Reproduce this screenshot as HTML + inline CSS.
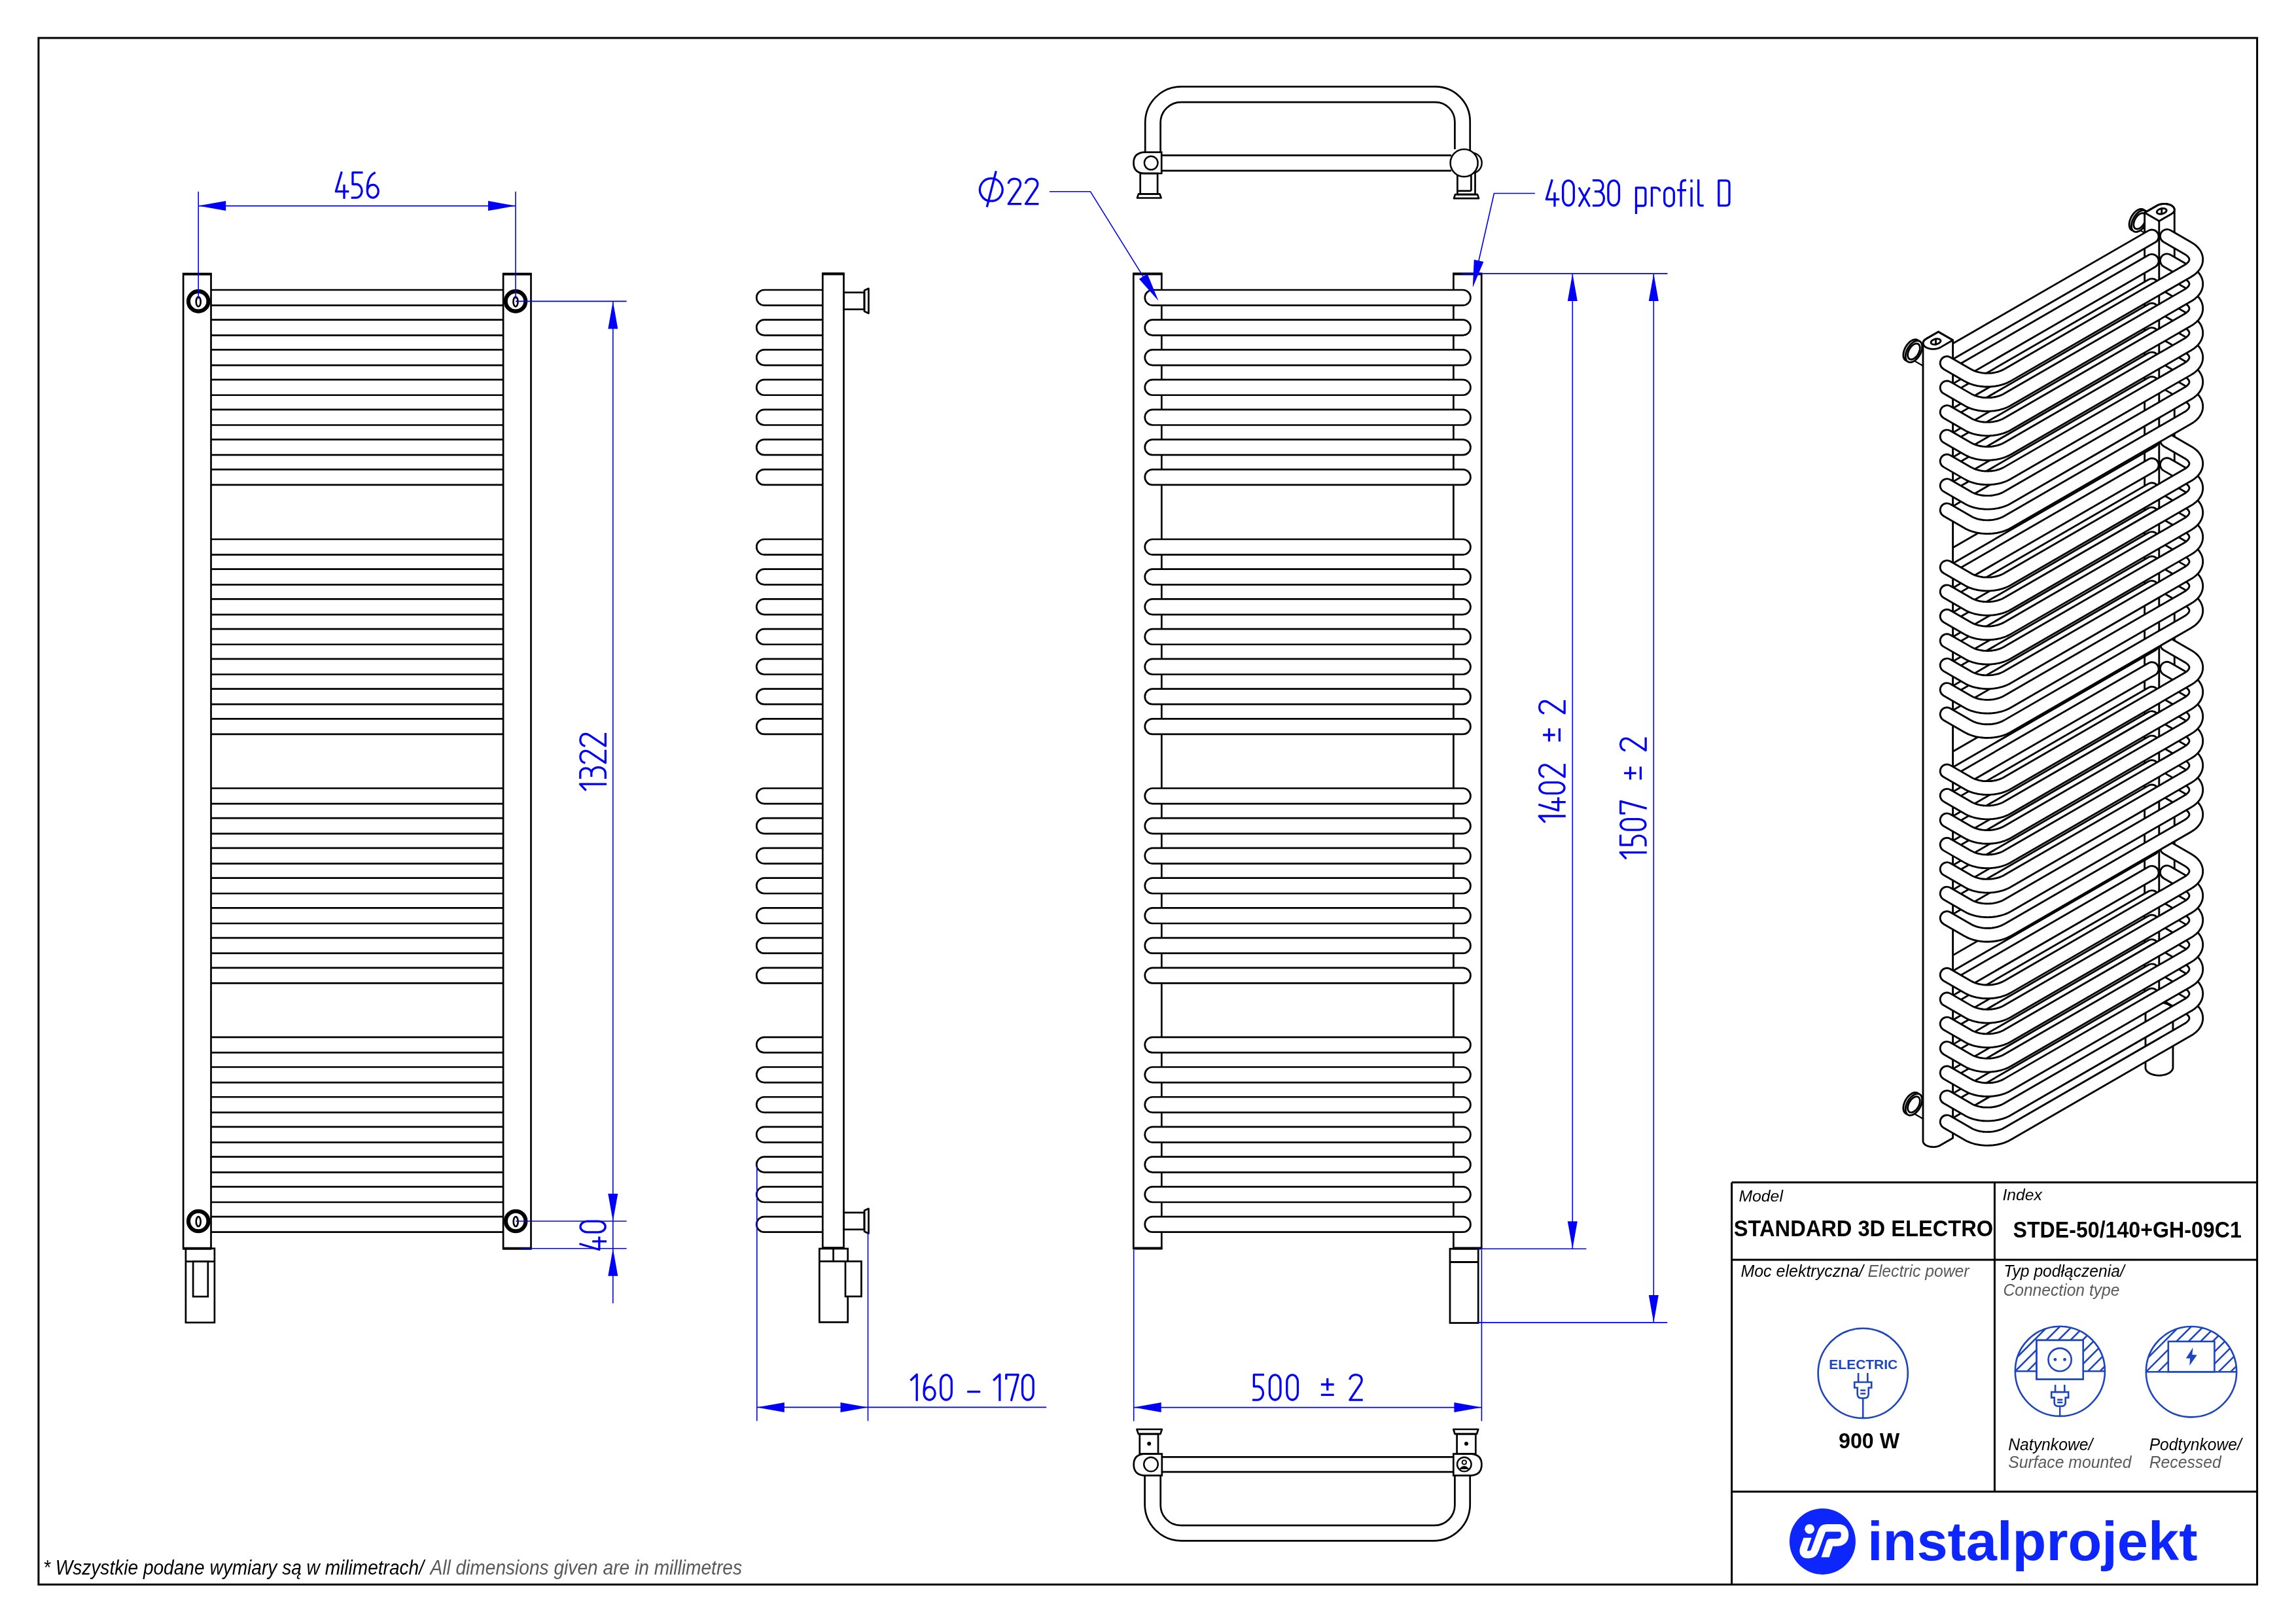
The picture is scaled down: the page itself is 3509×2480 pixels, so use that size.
<!DOCTYPE html>
<html><head><meta charset="utf-8"><title>STANDARD 3D ELECTRO</title>
<style>html,body{margin:0;padding:0;background:#fff;width:3509px;height:2480px;overflow:hidden}svg{display:block;will-change:transform}</style>
</head><body>
<svg width="3509" height="2480" viewBox="0 0 3509 2480">
<rect width="3509" height="2480" fill="#fff"/>
<g id="d3">
<line x1="2947.43" y1="550.14" x2="2925.3" y2="537.36" stroke="#000" stroke-width="26" stroke-linecap="butt"/>
<line x1="2947.43" y1="550.14" x2="2925.3" y2="537.36" stroke="#fff" stroke-width="21.6" stroke-linecap="butt"/>
<path d="M2934.37,527.86 L2934.17,525.4 L2933.6,523.24 L2932.66,521.45 L2931.38,520.07 L2929.81,519.16 L2927.99,518.73 L2925.97,518.8 L2923.82,519.37 L2921.61,520.43 L2919.39,521.93 L2917.24,523.84 L2915.23,526.09 L2913.41,528.63 L2911.83,531.36 L2910.56,534.21 L2909.62,537.09 L2909.04,539.91 L2908.85,542.59 L2909.04,545.05 L2909.62,547.21 L2910.56,549.01 L2911.83,550.38 L2913.41,551.3 L2915.23,551.73 L2917.24,551.65 L2919.39,551.08 L2921.61,550.03 L2923.82,548.52 L2925.97,546.61 L2927.99,544.36 L2929.81,541.83 L2931.38,539.1 L2932.66,536.25 L2933.6,533.37 L2934.17,530.54 Z" stroke="#000" stroke-width="2.85" fill="#fff" stroke-linejoin="round"/>
<path d="M2937.69,529.78 L2937.49,527.32 L2936.92,525.16 L2935.98,523.37 L2934.7,521.99 L2933.13,521.07 L2931.31,520.64 L2929.29,520.72 L2927.14,521.29 L2924.93,522.35 L2922.71,523.85 L2920.56,525.76 L2918.55,528.01 L2916.73,530.54 L2915.15,533.27 L2913.88,536.12 L2912.94,539 L2912.36,541.83 L2912.17,544.51 L2912.36,546.97 L2912.94,549.13 L2913.88,550.92 L2915.15,552.3 L2916.73,553.21 L2918.55,553.64 L2920.56,553.57 L2922.71,553 L2924.93,551.94 L2927.14,550.44 L2929.29,548.53 L2931.31,546.28 L2933.13,543.75 L2934.7,541.01 L2935.98,538.16 L2936.92,535.28 L2937.49,532.46 Z" stroke="#000" stroke-width="2.85" fill="#fff" stroke-linejoin="round"/>
<path d="M2934.31,531.73 L2934.17,529.92 L2933.74,528.33 L2933.05,527.01 L2932.11,526 L2930.96,525.33 L2929.62,525.01 L2928.14,525.07 L2926.56,525.49 L2924.93,526.26 L2923.3,527.37 L2921.72,528.77 L2920.24,530.43 L2918.9,532.29 L2917.74,534.3 L2916.8,536.39 L2916.11,538.51 L2915.69,540.59 L2915.55,542.56 L2915.69,544.37 L2916.11,545.95 L2916.8,547.27 L2917.74,548.29 L2918.9,548.96 L2920.24,549.28 L2921.72,549.22 L2923.3,548.8 L2924.93,548.02 L2926.56,546.92 L2928.14,545.52 L2929.62,543.86 L2930.96,542 L2932.11,539.99 L2933.05,537.89 L2933.74,535.78 L2934.17,533.7 Z" stroke="#000" stroke-width="2.85" fill="none" stroke-linejoin="round"/>
<line x1="2947.43" y1="1700.76" x2="2925.3" y2="1687.98" stroke="#000" stroke-width="26" stroke-linecap="butt"/>
<line x1="2947.43" y1="1700.76" x2="2925.3" y2="1687.98" stroke="#fff" stroke-width="21.6" stroke-linecap="butt"/>
<path d="M2934.37,1678.49 L2934.17,1676.03 L2933.6,1673.87 L2932.66,1672.08 L2931.38,1670.7 L2929.81,1669.78 L2927.99,1669.35 L2925.97,1669.43 L2923.82,1670 L2921.61,1671.06 L2919.39,1672.56 L2917.24,1674.47 L2915.23,1676.72 L2913.41,1679.25 L2911.83,1681.98 L2910.56,1684.83 L2909.62,1687.71 L2909.04,1690.54 L2908.85,1693.22 L2909.04,1695.68 L2909.62,1697.84 L2910.56,1699.63 L2911.83,1701.01 L2913.41,1701.92 L2915.23,1702.35 L2917.24,1702.28 L2919.39,1701.71 L2921.61,1700.65 L2923.82,1699.15 L2925.97,1697.24 L2927.99,1694.99 L2929.81,1692.45 L2931.38,1689.72 L2932.66,1686.87 L2933.6,1683.99 L2934.17,1681.17 Z" stroke="#000" stroke-width="2.85" fill="#fff" stroke-linejoin="round"/>
<path d="M2937.69,1680.4 L2937.49,1677.95 L2936.92,1675.79 L2935.98,1673.99 L2934.7,1672.62 L2933.13,1671.7 L2931.31,1671.27 L2929.29,1671.35 L2927.14,1671.92 L2924.93,1672.97 L2922.71,1674.48 L2920.56,1676.38 L2918.55,1678.64 L2916.73,1681.17 L2915.15,1683.9 L2913.88,1686.75 L2912.94,1689.63 L2912.36,1692.45 L2912.17,1695.14 L2912.36,1697.59 L2912.94,1699.75 L2913.88,1701.55 L2915.15,1702.93 L2916.73,1703.84 L2918.55,1704.27 L2920.56,1704.2 L2922.71,1703.62 L2924.93,1702.57 L2927.14,1701.07 L2929.29,1699.16 L2931.31,1696.9 L2933.13,1694.37 L2934.7,1691.64 L2935.98,1688.79 L2936.92,1685.91 L2937.49,1683.09 Z" stroke="#000" stroke-width="2.85" fill="#fff" stroke-linejoin="round"/>
<path d="M2934.31,1682.35 L2934.17,1680.55 L2933.74,1678.96 L2933.05,1677.64 L2932.11,1676.63 L2930.96,1675.95 L2929.62,1675.64 L2928.14,1675.69 L2926.56,1676.11 L2924.93,1676.89 L2923.3,1678 L2921.72,1679.4 L2920.24,1681.06 L2918.9,1682.92 L2917.74,1684.93 L2916.8,1687.02 L2916.11,1689.14 L2915.69,1691.21 L2915.55,1693.19 L2915.69,1694.99 L2916.11,1696.58 L2916.8,1697.9 L2917.74,1698.91 L2918.9,1699.59 L2920.24,1699.9 L2921.72,1699.85 L2923.3,1699.43 L2924.93,1698.65 L2926.56,1697.55 L2928.14,1696.14 L2929.62,1694.49 L2930.96,1692.62 L2932.11,1690.62 L2933.05,1688.52 L2933.74,1686.4 L2934.17,1684.33 Z" stroke="#000" stroke-width="2.85" fill="none" stroke-linejoin="round"/>
<line x1="3292.66" y1="350.82" x2="3270.53" y2="338.04" stroke="#000" stroke-width="26" stroke-linecap="butt"/>
<line x1="3292.66" y1="350.82" x2="3270.53" y2="338.04" stroke="#fff" stroke-width="21.6" stroke-linecap="butt"/>
<path d="M3279.59,328.54 L3279.4,326.08 L3278.83,323.93 L3277.89,322.13 L3276.61,320.75 L3275.04,319.84 L3273.22,319.41 L3271.2,319.48 L3269.05,320.06 L3266.84,321.11 L3264.62,322.61 L3262.47,324.52 L3260.46,326.78 L3258.64,329.31 L3257.06,332.04 L3255.79,334.89 L3254.85,337.77 L3254.27,340.59 L3254.08,343.27 L3254.27,345.73 L3254.85,347.89 L3255.79,349.69 L3257.06,351.06 L3258.64,351.98 L3260.46,352.41 L3262.47,352.33 L3264.62,351.76 L3266.84,350.71 L3269.05,349.2 L3271.2,347.3 L3273.22,345.04 L3275.04,342.51 L3276.61,339.78 L3277.89,336.93 L3278.83,334.05 L3279.4,331.22 Z" stroke="#000" stroke-width="2.85" fill="#fff" stroke-linejoin="round"/>
<path d="M3282.92,330.46 L3282.72,328 L3282.15,325.84 L3281.21,324.05 L3279.93,322.67 L3278.36,321.75 L3276.54,321.33 L3274.52,321.4 L3272.37,321.97 L3270.16,323.03 L3267.94,324.53 L3265.79,326.44 L3263.78,328.69 L3261.96,331.22 L3260.38,333.96 L3259.11,336.81 L3258.17,339.69 L3257.59,342.51 L3257.4,345.19 L3257.59,347.65 L3258.17,349.81 L3259.11,351.6 L3260.38,352.98 L3261.96,353.9 L3263.78,354.32 L3265.79,354.25 L3267.94,353.68 L3270.16,352.62 L3272.37,351.12 L3274.52,349.21 L3276.54,346.96 L3278.36,344.43 L3279.93,341.7 L3281.21,338.85 L3282.15,335.97 L3282.72,333.14 Z" stroke="#000" stroke-width="2.85" fill="#fff" stroke-linejoin="round"/>
<path d="M3279.54,332.41 L3279.4,330.6 L3278.97,329.01 L3278.28,327.69 L3277.34,326.68 L3276.19,326.01 L3274.85,325.69 L3273.37,325.75 L3271.79,326.17 L3270.16,326.94 L3268.53,328.05 L3266.95,329.45 L3265.47,331.11 L3264.13,332.97 L3262.97,334.98 L3262.03,337.08 L3261.34,339.19 L3260.92,341.27 L3260.78,343.24 L3260.92,345.05 L3261.34,346.64 L3262.03,347.96 L3262.97,348.97 L3264.13,349.64 L3265.47,349.96 L3266.95,349.9 L3268.53,349.48 L3270.16,348.71 L3271.79,347.6 L3273.37,346.2 L3274.85,344.54 L3276.19,342.68 L3277.34,340.67 L3278.28,338.58 L3278.97,336.46 L3279.4,334.38 Z" stroke="#000" stroke-width="2.85" fill="none" stroke-linejoin="round"/>
<path d="M3277.65,325.01 L3296.41,314.18 L3297.98,313.39 L3299.7,312.72 L3301.56,312.18 L3303.53,311.79 L3305.55,311.54 L3307.62,311.46 L3309.67,311.52 L3311.7,311.75 L3313.65,312.12 L3315.49,312.64 L3317.2,313.29 L3318.74,314.07 L3320.09,314.96 L3321.22,315.95 L3322.12,317.01 L3322.76,318.14 L3323.15,319.3 L3323.27,320.49 L3323.27,1539.73 L3323.12,1540.92 L3322.7,1542.09 L3322.01,1543.22 L3321.09,1544.3 L3319.92,1545.29 L3318.55,1546.2 L3299.79,1557.03 L3277.65,1544.25 Z" stroke="#000" stroke-width="2.85" fill="#fff" stroke-linejoin="round"/>
<path d="M3277.65,325.01 L3296.41,314.18 L3297.98,313.39 L3299.7,312.72 L3301.56,312.18 L3303.53,311.79 L3305.55,311.54 L3307.62,311.46 L3309.67,311.52 L3311.7,311.75 L3313.65,312.12 L3315.49,312.64 L3317.2,313.29 L3318.74,314.07 L3320.09,314.96 L3321.22,315.95 L3322.12,317.01 L3322.76,318.14 L3323.15,319.3 L3323.27,320.49 L3323.12,321.68 L3322.7,322.85 L3322.01,323.99 L3321.09,325.06 L3319.92,326.06 L3318.55,326.96 L3299.79,337.79 Z" stroke="#000" stroke-width="2.85" fill="none" stroke-linejoin="round"/>
<line x1="3299.79" y1="337.79" x2="3299.79" y2="1557.03" stroke="#000" stroke-width="2.85"/>
<path d="M3309.73,319.27 L3310.67,320.05 L3311.14,321.01 L3311.1,322.09 L3310.56,323.22 L3309.56,324.31 L3308.16,325.29 L3306.45,326.1 L3304.56,326.68 L3302.61,327 L3300.74,327.02 L3299.08,326.75 L3297.72,326.2 L3296.78,325.42 L3296.32,324.46 L3296.35,323.38 L3296.89,322.26 L3297.9,321.17 L3299.3,320.18 L3301.01,319.37 L3302.9,318.79 L3304.84,318.48 L3306.71,318.46 L3308.38,318.73 Z" stroke="#000" stroke-width="2.85" fill="none" stroke-linejoin="round"/>
<line x1="3303.73" y1="317.24" x2="3303.73" y2="328.24" stroke="#000" stroke-width="2.85"/>
<path d="M3278.99,1545.3 L3279.02,1543.18 L3279.69,1541.09 L3280.98,1539.1 L3282.84,1537.25 L3285.22,1535.62 L3288.05,1534.24 L3291.24,1533.17 L3294.7,1532.43 L3298.32,1532.04 L3301.99,1532.02 L3305.6,1532.37 L3309.03,1533.08 L3312.2,1534.13 L3314.99,1535.47 L3317.32,1537.08 L3319.13,1538.91 L3320.35,1540.89 L3320.96,1542.98 L3320.96,1630.03 L3320.93,1632.15 L3320.26,1634.24 L3318.98,1636.23 L3317.12,1638.08 L3314.73,1639.71 L3311.9,1641.08 L3308.71,1642.16 L3305.25,1642.9 L3301.63,1643.29 L3297.96,1643.3 L3294.36,1642.95 L3290.92,1642.25 L3287.76,1641.2 L3284.97,1639.86 L3282.63,1638.24 L3280.82,1636.42 L3279.6,1634.43 L3278.99,1632.35 Z" stroke="#000" stroke-width="2.85" fill="#fff" stroke-linejoin="round"/>
<path d="M2973.51,1702.68 L3288.72,1520.69" stroke="#000" stroke-width="23.6" fill="none" stroke-linecap="round" stroke-linejoin="round"/>
<path d="M2973.51,1702.68 L3288.72,1520.69" stroke="#fff" stroke-width="17.9" fill="none" stroke-linecap="round" stroke-linejoin="round"/>
<path d="M2973.51,1665.25 L3288.72,1483.26" stroke="#000" stroke-width="23.6" fill="none" stroke-linecap="round" stroke-linejoin="round"/>
<path d="M2973.51,1665.25 L3288.72,1483.26" stroke="#fff" stroke-width="17.9" fill="none" stroke-linecap="round" stroke-linejoin="round"/>
<path d="M2973.51,1627.82 L3288.72,1445.83" stroke="#000" stroke-width="23.6" fill="none" stroke-linecap="round" stroke-linejoin="round"/>
<path d="M2973.51,1627.82 L3288.72,1445.83" stroke="#fff" stroke-width="17.9" fill="none" stroke-linecap="round" stroke-linejoin="round"/>
<path d="M2973.51,1590.39 L3288.72,1408.4" stroke="#000" stroke-width="23.6" fill="none" stroke-linecap="round" stroke-linejoin="round"/>
<path d="M2973.51,1590.39 L3288.72,1408.4" stroke="#fff" stroke-width="17.9" fill="none" stroke-linecap="round" stroke-linejoin="round"/>
<path d="M2973.51,1552.96 L3288.72,1370.97" stroke="#000" stroke-width="23.6" fill="none" stroke-linecap="round" stroke-linejoin="round"/>
<path d="M2973.51,1552.96 L3288.72,1370.97" stroke="#fff" stroke-width="17.9" fill="none" stroke-linecap="round" stroke-linejoin="round"/>
<path d="M2973.51,1515.53 L3288.72,1333.54" stroke="#000" stroke-width="23.6" fill="none" stroke-linecap="round" stroke-linejoin="round"/>
<path d="M2973.51,1515.53 L3288.72,1333.54" stroke="#fff" stroke-width="17.9" fill="none" stroke-linecap="round" stroke-linejoin="round"/>
<path d="M2973.51,1478.1 L3288.72,1296.11" stroke="#000" stroke-width="23.6" fill="none" stroke-linecap="round" stroke-linejoin="round"/>
<path d="M2973.51,1478.1 L3288.72,1296.11" stroke="#fff" stroke-width="17.9" fill="none" stroke-linecap="round" stroke-linejoin="round"/>
<path d="M2973.51,1391.34 L3288.72,1209.35" stroke="#000" stroke-width="23.6" fill="none" stroke-linecap="round" stroke-linejoin="round"/>
<path d="M2973.51,1391.34 L3288.72,1209.35" stroke="#fff" stroke-width="17.9" fill="none" stroke-linecap="round" stroke-linejoin="round"/>
<path d="M2973.51,1353.91 L3288.72,1171.92" stroke="#000" stroke-width="23.6" fill="none" stroke-linecap="round" stroke-linejoin="round"/>
<path d="M2973.51,1353.91 L3288.72,1171.92" stroke="#fff" stroke-width="17.9" fill="none" stroke-linecap="round" stroke-linejoin="round"/>
<path d="M2973.51,1316.48 L3288.72,1134.49" stroke="#000" stroke-width="23.6" fill="none" stroke-linecap="round" stroke-linejoin="round"/>
<path d="M2973.51,1316.48 L3288.72,1134.49" stroke="#fff" stroke-width="17.9" fill="none" stroke-linecap="round" stroke-linejoin="round"/>
<path d="M2973.51,1279.05 L3288.72,1097.06" stroke="#000" stroke-width="23.6" fill="none" stroke-linecap="round" stroke-linejoin="round"/>
<path d="M2973.51,1279.05 L3288.72,1097.06" stroke="#fff" stroke-width="17.9" fill="none" stroke-linecap="round" stroke-linejoin="round"/>
<path d="M2973.51,1241.62 L3288.72,1059.63" stroke="#000" stroke-width="23.6" fill="none" stroke-linecap="round" stroke-linejoin="round"/>
<path d="M2973.51,1241.62 L3288.72,1059.63" stroke="#fff" stroke-width="17.9" fill="none" stroke-linecap="round" stroke-linejoin="round"/>
<path d="M2973.51,1204.19 L3288.72,1022.2" stroke="#000" stroke-width="23.6" fill="none" stroke-linecap="round" stroke-linejoin="round"/>
<path d="M2973.51,1204.19 L3288.72,1022.2" stroke="#fff" stroke-width="17.9" fill="none" stroke-linecap="round" stroke-linejoin="round"/>
<path d="M2973.51,1166.76 L3288.72,984.77" stroke="#000" stroke-width="23.6" fill="none" stroke-linecap="round" stroke-linejoin="round"/>
<path d="M2973.51,1166.76 L3288.72,984.77" stroke="#fff" stroke-width="17.9" fill="none" stroke-linecap="round" stroke-linejoin="round"/>
<path d="M2973.51,1079.83 L3288.72,897.84" stroke="#000" stroke-width="23.6" fill="none" stroke-linecap="round" stroke-linejoin="round"/>
<path d="M2973.51,1079.83 L3288.72,897.84" stroke="#fff" stroke-width="17.9" fill="none" stroke-linecap="round" stroke-linejoin="round"/>
<path d="M2973.51,1042.4 L3288.72,860.41" stroke="#000" stroke-width="23.6" fill="none" stroke-linecap="round" stroke-linejoin="round"/>
<path d="M2973.51,1042.4 L3288.72,860.41" stroke="#fff" stroke-width="17.9" fill="none" stroke-linecap="round" stroke-linejoin="round"/>
<path d="M2973.51,1004.97 L3288.72,822.98" stroke="#000" stroke-width="23.6" fill="none" stroke-linecap="round" stroke-linejoin="round"/>
<path d="M2973.51,1004.97 L3288.72,822.98" stroke="#fff" stroke-width="17.9" fill="none" stroke-linecap="round" stroke-linejoin="round"/>
<path d="M2973.51,967.54 L3288.72,785.55" stroke="#000" stroke-width="23.6" fill="none" stroke-linecap="round" stroke-linejoin="round"/>
<path d="M2973.51,967.54 L3288.72,785.55" stroke="#fff" stroke-width="17.9" fill="none" stroke-linecap="round" stroke-linejoin="round"/>
<path d="M2973.51,930.11 L3288.72,748.12" stroke="#000" stroke-width="23.6" fill="none" stroke-linecap="round" stroke-linejoin="round"/>
<path d="M2973.51,930.11 L3288.72,748.12" stroke="#fff" stroke-width="17.9" fill="none" stroke-linecap="round" stroke-linejoin="round"/>
<path d="M2973.51,892.68 L3288.72,710.69" stroke="#000" stroke-width="23.6" fill="none" stroke-linecap="round" stroke-linejoin="round"/>
<path d="M2973.51,892.68 L3288.72,710.69" stroke="#fff" stroke-width="17.9" fill="none" stroke-linecap="round" stroke-linejoin="round"/>
<path d="M2973.51,855.25 L3288.72,673.26" stroke="#000" stroke-width="23.6" fill="none" stroke-linecap="round" stroke-linejoin="round"/>
<path d="M2973.51,855.25 L3288.72,673.26" stroke="#fff" stroke-width="17.9" fill="none" stroke-linecap="round" stroke-linejoin="round"/>
<path d="M2973.51,767.91 L3288.72,585.93" stroke="#000" stroke-width="23.6" fill="none" stroke-linecap="round" stroke-linejoin="round"/>
<path d="M2973.51,767.91 L3288.72,585.93" stroke="#fff" stroke-width="17.9" fill="none" stroke-linecap="round" stroke-linejoin="round"/>
<path d="M2973.51,730.48 L3288.72,548.5" stroke="#000" stroke-width="23.6" fill="none" stroke-linecap="round" stroke-linejoin="round"/>
<path d="M2973.51,730.48 L3288.72,548.5" stroke="#fff" stroke-width="17.9" fill="none" stroke-linecap="round" stroke-linejoin="round"/>
<path d="M2973.51,693.05 L3288.72,511.07" stroke="#000" stroke-width="23.6" fill="none" stroke-linecap="round" stroke-linejoin="round"/>
<path d="M2973.51,693.05 L3288.72,511.07" stroke="#fff" stroke-width="17.9" fill="none" stroke-linecap="round" stroke-linejoin="round"/>
<path d="M2973.51,655.62 L3288.72,473.64" stroke="#000" stroke-width="23.6" fill="none" stroke-linecap="round" stroke-linejoin="round"/>
<path d="M2973.51,655.62 L3288.72,473.64" stroke="#fff" stroke-width="17.9" fill="none" stroke-linecap="round" stroke-linejoin="round"/>
<path d="M2973.51,618.19 L3288.72,436.21" stroke="#000" stroke-width="23.6" fill="none" stroke-linecap="round" stroke-linejoin="round"/>
<path d="M2973.51,618.19 L3288.72,436.21" stroke="#fff" stroke-width="17.9" fill="none" stroke-linecap="round" stroke-linejoin="round"/>
<path d="M2973.51,580.76 L3288.72,398.78" stroke="#000" stroke-width="23.6" fill="none" stroke-linecap="round" stroke-linejoin="round"/>
<path d="M2973.51,580.76 L3288.72,398.78" stroke="#fff" stroke-width="17.9" fill="none" stroke-linecap="round" stroke-linejoin="round"/>
<path d="M2973.51,543.33 L3288.72,361.35" stroke="#000" stroke-width="23.6" fill="none" stroke-linecap="round" stroke-linejoin="round"/>
<path d="M2973.51,543.33 L3288.72,361.35" stroke="#fff" stroke-width="17.9" fill="none" stroke-linecap="round" stroke-linejoin="round"/>
<path d="M2938.96,524.3 L2939.11,523.11 L2939.53,521.94 L2940.21,520.8 L2941.14,519.73 L2942.3,518.73 L2943.68,517.83 L2962.44,507 L2984.58,519.78 L2984.58,1739.02 L2965.82,1749.85 L2964.25,1750.64 L2962.52,1751.31 L2960.66,1751.85 L2958.7,1752.24 L2956.68,1752.48 L2954.61,1752.57 L2952.55,1752.5 L2950.53,1752.28 L2948.58,1751.91 L2946.74,1751.39 L2945.03,1750.74 L2943.49,1749.96 L2942.14,1749.07 L2941.01,1748.08 L2940.11,1747.02 L2939.46,1745.89 L2939.08,1744.72 L2938.96,1743.53 Z" stroke="#000" stroke-width="2.85" fill="#fff" stroke-linejoin="round"/>
<path d="M2962.44,507 L2943.68,517.83 L2942.3,518.73 L2941.14,519.73 L2940.21,520.8 L2939.53,521.94 L2939.11,523.11 L2938.96,524.3 L2939.08,525.49 L2939.46,526.66 L2940.11,527.78 L2941.01,528.85 L2942.14,529.83 L2943.49,530.72 L2945.03,531.5 L2946.74,532.15 L2948.58,532.67 L2950.53,533.05 L2952.55,533.27 L2954.61,533.34 L2956.68,533.25 L2958.7,533 L2960.66,532.61 L2962.52,532.08 L2964.25,531.4 L2965.82,530.61 L2984.58,519.78 Z" stroke="#000" stroke-width="2.85" fill="none" stroke-linejoin="round"/>
<path d="M2964.5,518.59 L2965.45,519.37 L2965.91,520.33 L2965.88,521.41 L2965.34,522.54 L2964.33,523.63 L2962.93,524.61 L2961.22,525.42 L2959.33,526 L2957.38,526.31 L2955.51,526.33 L2953.85,526.06 L2952.5,525.52 L2951.55,524.74 L2951.09,523.78 L2951.12,522.7 L2951.66,521.57 L2952.67,520.48 L2954.07,519.5 L2955.78,518.69 L2957.67,518.11 L2959.62,517.8 L2961.49,517.77 L2963.15,518.04 Z" stroke="#000" stroke-width="2.85" fill="none" stroke-linejoin="round"/>
<line x1="2958.5" y1="516.55" x2="2958.5" y2="527.55" stroke="#000" stroke-width="2.85"/>
<path d="M2975.57,1714.27 L3008.04,1733.01 L3010.03,1734.09 L3012.15,1735.09 L3014.37,1736 L3016.7,1736.83 L3019.12,1737.57 L3021.62,1738.22 L3024.19,1738.76 L3026.82,1739.21 L3029.49,1739.56 L3032.21,1739.81 L3034.95,1739.95 L3037.7,1739.99 L3040.45,1739.92 L3043.2,1739.75 L3045.92,1739.48 L3048.61,1739.1 L3051.25,1738.63 L3053.84,1738.06 L3056.36,1737.39 L3058.8,1736.63 L3061.15,1735.78 L3063.4,1734.84 L3065.54,1733.82 L3067.57,1732.72 L3343.75,1573.27 L3345.65,1572.1 L3347.42,1570.86 L3349.04,1569.56 L3350.52,1568.2 L3351.84,1566.79 L3353,1565.34 L3353.99,1563.84 L3354.81,1562.32 L3355.46,1560.77 L3355.93,1559.19 L3356.22,1557.61 L3356.34,1556.02 L3356.27,1554.43 L3356.02,1552.85 L3355.6,1551.28 L3355,1549.74 L3354.22,1548.22 L3353.27,1546.74 L3352.15,1545.29 L3350.88,1543.9 L3349.44,1542.55 L3347.86,1541.27 L3346.13,1540.05 L3344.26,1538.9 L3311.79,1520.15" stroke="#000" stroke-width="23.6" fill="none" stroke-linecap="round" stroke-linejoin="round"/>
<path d="M2975.57,1714.27 L3008.04,1733.01 L3010.03,1734.09 L3012.15,1735.09 L3014.37,1736 L3016.7,1736.83 L3019.12,1737.57 L3021.62,1738.22 L3024.19,1738.76 L3026.82,1739.21 L3029.49,1739.56 L3032.21,1739.81 L3034.95,1739.95 L3037.7,1739.99 L3040.45,1739.92 L3043.2,1739.75 L3045.92,1739.48 L3048.61,1739.1 L3051.25,1738.63 L3053.84,1738.06 L3056.36,1737.39 L3058.8,1736.63 L3061.15,1735.78 L3063.4,1734.84 L3065.54,1733.82 L3067.57,1732.72 L3343.75,1573.27 L3345.65,1572.1 L3347.42,1570.86 L3349.04,1569.56 L3350.52,1568.2 L3351.84,1566.79 L3353,1565.34 L3353.99,1563.84 L3354.81,1562.32 L3355.46,1560.77 L3355.93,1559.19 L3356.22,1557.61 L3356.34,1556.02 L3356.27,1554.43 L3356.02,1552.85 L3355.6,1551.28 L3355,1549.74 L3354.22,1548.22 L3353.27,1546.74 L3352.15,1545.29 L3350.88,1543.9 L3349.44,1542.55 L3347.86,1541.27 L3346.13,1540.05 L3344.26,1538.9 L3311.79,1520.15" stroke="#fff" stroke-width="17.9" fill="none" stroke-linecap="round" stroke-linejoin="round"/>
<path d="M2975.57,1676.84 L3008.04,1695.58 L3010.03,1696.66 L3012.15,1697.66 L3014.37,1698.57 L3016.7,1699.4 L3019.12,1700.14 L3021.62,1700.79 L3024.19,1701.33 L3026.82,1701.78 L3029.49,1702.13 L3032.21,1702.38 L3034.95,1702.52 L3037.7,1702.56 L3040.45,1702.49 L3043.2,1702.32 L3045.92,1702.05 L3048.61,1701.67 L3051.25,1701.2 L3053.84,1700.63 L3056.36,1699.96 L3058.8,1699.2 L3061.15,1698.35 L3063.4,1697.41 L3065.54,1696.39 L3067.57,1695.29 L3343.75,1535.84 L3345.65,1534.67 L3347.42,1533.43 L3349.04,1532.13 L3350.52,1530.77 L3351.84,1529.36 L3353,1527.91 L3353.99,1526.41 L3354.81,1524.89 L3355.46,1523.34 L3355.93,1521.76 L3356.22,1520.18 L3356.34,1518.59 L3356.27,1517 L3356.02,1515.42 L3355.6,1513.85 L3355,1512.31 L3354.22,1510.79 L3353.27,1509.31 L3352.15,1507.86 L3350.88,1506.47 L3349.44,1505.12 L3347.86,1503.84 L3346.13,1502.62 L3344.26,1501.47 L3311.79,1482.72" stroke="#000" stroke-width="23.6" fill="none" stroke-linecap="round" stroke-linejoin="round"/>
<path d="M2975.57,1676.84 L3008.04,1695.58 L3010.03,1696.66 L3012.15,1697.66 L3014.37,1698.57 L3016.7,1699.4 L3019.12,1700.14 L3021.62,1700.79 L3024.19,1701.33 L3026.82,1701.78 L3029.49,1702.13 L3032.21,1702.38 L3034.95,1702.52 L3037.7,1702.56 L3040.45,1702.49 L3043.2,1702.32 L3045.92,1702.05 L3048.61,1701.67 L3051.25,1701.2 L3053.84,1700.63 L3056.36,1699.96 L3058.8,1699.2 L3061.15,1698.35 L3063.4,1697.41 L3065.54,1696.39 L3067.57,1695.29 L3343.75,1535.84 L3345.65,1534.67 L3347.42,1533.43 L3349.04,1532.13 L3350.52,1530.77 L3351.84,1529.36 L3353,1527.91 L3353.99,1526.41 L3354.81,1524.89 L3355.46,1523.34 L3355.93,1521.76 L3356.22,1520.18 L3356.34,1518.59 L3356.27,1517 L3356.02,1515.42 L3355.6,1513.85 L3355,1512.31 L3354.22,1510.79 L3353.27,1509.31 L3352.15,1507.86 L3350.88,1506.47 L3349.44,1505.12 L3347.86,1503.84 L3346.13,1502.62 L3344.26,1501.47 L3311.79,1482.72" stroke="#fff" stroke-width="17.9" fill="none" stroke-linecap="round" stroke-linejoin="round"/>
<path d="M2975.57,1639.41 L3008.04,1658.15 L3010.03,1659.23 L3012.15,1660.23 L3014.37,1661.14 L3016.7,1661.97 L3019.12,1662.71 L3021.62,1663.36 L3024.19,1663.9 L3026.82,1664.35 L3029.49,1664.7 L3032.21,1664.95 L3034.95,1665.09 L3037.7,1665.13 L3040.45,1665.06 L3043.2,1664.89 L3045.92,1664.62 L3048.61,1664.24 L3051.25,1663.77 L3053.84,1663.2 L3056.36,1662.53 L3058.8,1661.77 L3061.15,1660.92 L3063.4,1659.98 L3065.54,1658.96 L3067.57,1657.86 L3343.75,1498.41 L3345.65,1497.24 L3347.42,1496 L3349.04,1494.7 L3350.52,1493.34 L3351.84,1491.93 L3353,1490.48 L3353.99,1488.98 L3354.81,1487.46 L3355.46,1485.91 L3355.93,1484.33 L3356.22,1482.75 L3356.34,1481.16 L3356.27,1479.57 L3356.02,1477.99 L3355.6,1476.42 L3355,1474.88 L3354.22,1473.36 L3353.27,1471.88 L3352.15,1470.43 L3350.88,1469.04 L3349.44,1467.69 L3347.86,1466.41 L3346.13,1465.19 L3344.26,1464.04 L3311.79,1445.29" stroke="#000" stroke-width="23.6" fill="none" stroke-linecap="round" stroke-linejoin="round"/>
<path d="M2975.57,1639.41 L3008.04,1658.15 L3010.03,1659.23 L3012.15,1660.23 L3014.37,1661.14 L3016.7,1661.97 L3019.12,1662.71 L3021.62,1663.36 L3024.19,1663.9 L3026.82,1664.35 L3029.49,1664.7 L3032.21,1664.95 L3034.95,1665.09 L3037.7,1665.13 L3040.45,1665.06 L3043.2,1664.89 L3045.92,1664.62 L3048.61,1664.24 L3051.25,1663.77 L3053.84,1663.2 L3056.36,1662.53 L3058.8,1661.77 L3061.15,1660.92 L3063.4,1659.98 L3065.54,1658.96 L3067.57,1657.86 L3343.75,1498.41 L3345.65,1497.24 L3347.42,1496 L3349.04,1494.7 L3350.52,1493.34 L3351.84,1491.93 L3353,1490.48 L3353.99,1488.98 L3354.81,1487.46 L3355.46,1485.91 L3355.93,1484.33 L3356.22,1482.75 L3356.34,1481.16 L3356.27,1479.57 L3356.02,1477.99 L3355.6,1476.42 L3355,1474.88 L3354.22,1473.36 L3353.27,1471.88 L3352.15,1470.43 L3350.88,1469.04 L3349.44,1467.69 L3347.86,1466.41 L3346.13,1465.19 L3344.26,1464.04 L3311.79,1445.29" stroke="#fff" stroke-width="17.9" fill="none" stroke-linecap="round" stroke-linejoin="round"/>
<path d="M2975.57,1601.98 L3008.04,1620.72 L3010.03,1621.8 L3012.15,1622.8 L3014.37,1623.71 L3016.7,1624.54 L3019.12,1625.28 L3021.62,1625.93 L3024.19,1626.47 L3026.82,1626.92 L3029.49,1627.27 L3032.21,1627.52 L3034.95,1627.66 L3037.7,1627.7 L3040.45,1627.63 L3043.2,1627.46 L3045.92,1627.19 L3048.61,1626.81 L3051.25,1626.34 L3053.84,1625.77 L3056.36,1625.1 L3058.8,1624.34 L3061.15,1623.49 L3063.4,1622.55 L3065.54,1621.53 L3067.57,1620.43 L3343.75,1460.98 L3345.65,1459.81 L3347.42,1458.57 L3349.04,1457.27 L3350.52,1455.91 L3351.84,1454.5 L3353,1453.05 L3353.99,1451.55 L3354.81,1450.03 L3355.46,1448.48 L3355.93,1446.9 L3356.22,1445.32 L3356.34,1443.73 L3356.27,1442.14 L3356.02,1440.56 L3355.6,1438.99 L3355,1437.45 L3354.22,1435.93 L3353.27,1434.45 L3352.15,1433 L3350.88,1431.61 L3349.44,1430.26 L3347.86,1428.98 L3346.13,1427.76 L3344.26,1426.61 L3311.79,1407.86" stroke="#000" stroke-width="23.6" fill="none" stroke-linecap="round" stroke-linejoin="round"/>
<path d="M2975.57,1601.98 L3008.04,1620.72 L3010.03,1621.8 L3012.15,1622.8 L3014.37,1623.71 L3016.7,1624.54 L3019.12,1625.28 L3021.62,1625.93 L3024.19,1626.47 L3026.82,1626.92 L3029.49,1627.27 L3032.21,1627.52 L3034.95,1627.66 L3037.7,1627.7 L3040.45,1627.63 L3043.2,1627.46 L3045.92,1627.19 L3048.61,1626.81 L3051.25,1626.34 L3053.84,1625.77 L3056.36,1625.1 L3058.8,1624.34 L3061.15,1623.49 L3063.4,1622.55 L3065.54,1621.53 L3067.57,1620.43 L3343.75,1460.98 L3345.65,1459.81 L3347.42,1458.57 L3349.04,1457.27 L3350.52,1455.91 L3351.84,1454.5 L3353,1453.05 L3353.99,1451.55 L3354.81,1450.03 L3355.46,1448.48 L3355.93,1446.9 L3356.22,1445.32 L3356.34,1443.73 L3356.27,1442.14 L3356.02,1440.56 L3355.6,1438.99 L3355,1437.45 L3354.22,1435.93 L3353.27,1434.45 L3352.15,1433 L3350.88,1431.61 L3349.44,1430.26 L3347.86,1428.98 L3346.13,1427.76 L3344.26,1426.61 L3311.79,1407.86" stroke="#fff" stroke-width="17.9" fill="none" stroke-linecap="round" stroke-linejoin="round"/>
<path d="M2975.57,1564.55 L3008.04,1583.29 L3010.03,1584.37 L3012.15,1585.37 L3014.37,1586.28 L3016.7,1587.11 L3019.12,1587.85 L3021.62,1588.5 L3024.19,1589.04 L3026.82,1589.49 L3029.49,1589.84 L3032.21,1590.09 L3034.95,1590.23 L3037.7,1590.27 L3040.45,1590.2 L3043.2,1590.03 L3045.92,1589.76 L3048.61,1589.38 L3051.25,1588.91 L3053.84,1588.34 L3056.36,1587.67 L3058.8,1586.91 L3061.15,1586.06 L3063.4,1585.12 L3065.54,1584.1 L3067.57,1583 L3343.75,1423.55 L3345.65,1422.38 L3347.42,1421.14 L3349.04,1419.84 L3350.52,1418.48 L3351.84,1417.07 L3353,1415.62 L3353.99,1414.12 L3354.81,1412.6 L3355.46,1411.05 L3355.93,1409.47 L3356.22,1407.89 L3356.34,1406.3 L3356.27,1404.71 L3356.02,1403.13 L3355.6,1401.56 L3355,1400.02 L3354.22,1398.5 L3353.27,1397.02 L3352.15,1395.57 L3350.88,1394.18 L3349.44,1392.83 L3347.86,1391.55 L3346.13,1390.33 L3344.26,1389.18 L3311.79,1370.43" stroke="#000" stroke-width="23.6" fill="none" stroke-linecap="round" stroke-linejoin="round"/>
<path d="M2975.57,1564.55 L3008.04,1583.29 L3010.03,1584.37 L3012.15,1585.37 L3014.37,1586.28 L3016.7,1587.11 L3019.12,1587.85 L3021.62,1588.5 L3024.19,1589.04 L3026.82,1589.49 L3029.49,1589.84 L3032.21,1590.09 L3034.95,1590.23 L3037.7,1590.27 L3040.45,1590.2 L3043.2,1590.03 L3045.92,1589.76 L3048.61,1589.38 L3051.25,1588.91 L3053.84,1588.34 L3056.36,1587.67 L3058.8,1586.91 L3061.15,1586.06 L3063.4,1585.12 L3065.54,1584.1 L3067.57,1583 L3343.75,1423.55 L3345.65,1422.38 L3347.42,1421.14 L3349.04,1419.84 L3350.52,1418.48 L3351.84,1417.07 L3353,1415.62 L3353.99,1414.12 L3354.81,1412.6 L3355.46,1411.05 L3355.93,1409.47 L3356.22,1407.89 L3356.34,1406.3 L3356.27,1404.71 L3356.02,1403.13 L3355.6,1401.56 L3355,1400.02 L3354.22,1398.5 L3353.27,1397.02 L3352.15,1395.57 L3350.88,1394.18 L3349.44,1392.83 L3347.86,1391.55 L3346.13,1390.33 L3344.26,1389.18 L3311.79,1370.43" stroke="#fff" stroke-width="17.9" fill="none" stroke-linecap="round" stroke-linejoin="round"/>
<path d="M2975.57,1527.12 L3008.04,1545.86 L3010.03,1546.94 L3012.15,1547.94 L3014.37,1548.86 L3016.7,1549.68 L3019.12,1550.42 L3021.62,1551.07 L3024.19,1551.61 L3026.82,1552.06 L3029.49,1552.41 L3032.21,1552.66 L3034.95,1552.8 L3037.7,1552.84 L3040.45,1552.77 L3043.2,1552.6 L3045.92,1552.33 L3048.61,1551.95 L3051.25,1551.48 L3053.84,1550.91 L3056.36,1550.24 L3058.8,1549.48 L3061.15,1548.63 L3063.4,1547.69 L3065.54,1546.67 L3067.57,1545.57 L3343.75,1386.12 L3345.65,1384.95 L3347.42,1383.71 L3349.04,1382.41 L3350.52,1381.05 L3351.84,1379.64 L3353,1378.19 L3353.99,1376.69 L3354.81,1375.17 L3355.46,1373.62 L3355.93,1372.05 L3356.22,1370.46 L3356.34,1368.87 L3356.27,1367.28 L3356.02,1365.7 L3355.6,1364.13 L3355,1362.59 L3354.22,1361.07 L3353.27,1359.59 L3352.15,1358.14 L3350.88,1356.75 L3349.44,1355.4 L3347.86,1354.12 L3346.13,1352.9 L3344.26,1351.75 L3311.79,1333" stroke="#000" stroke-width="23.6" fill="none" stroke-linecap="round" stroke-linejoin="round"/>
<path d="M2975.57,1527.12 L3008.04,1545.86 L3010.03,1546.94 L3012.15,1547.94 L3014.37,1548.86 L3016.7,1549.68 L3019.12,1550.42 L3021.62,1551.07 L3024.19,1551.61 L3026.82,1552.06 L3029.49,1552.41 L3032.21,1552.66 L3034.95,1552.8 L3037.7,1552.84 L3040.45,1552.77 L3043.2,1552.6 L3045.92,1552.33 L3048.61,1551.95 L3051.25,1551.48 L3053.84,1550.91 L3056.36,1550.24 L3058.8,1549.48 L3061.15,1548.63 L3063.4,1547.69 L3065.54,1546.67 L3067.57,1545.57 L3343.75,1386.12 L3345.65,1384.95 L3347.42,1383.71 L3349.04,1382.41 L3350.52,1381.05 L3351.84,1379.64 L3353,1378.19 L3353.99,1376.69 L3354.81,1375.17 L3355.46,1373.62 L3355.93,1372.05 L3356.22,1370.46 L3356.34,1368.87 L3356.27,1367.28 L3356.02,1365.7 L3355.6,1364.13 L3355,1362.59 L3354.22,1361.07 L3353.27,1359.59 L3352.15,1358.14 L3350.88,1356.75 L3349.44,1355.4 L3347.86,1354.12 L3346.13,1352.9 L3344.26,1351.75 L3311.79,1333" stroke="#fff" stroke-width="17.9" fill="none" stroke-linecap="round" stroke-linejoin="round"/>
<path d="M2975.57,1489.69 L3008.04,1508.43 L3010.03,1509.51 L3012.15,1510.51 L3014.37,1511.43 L3016.7,1512.25 L3019.12,1512.99 L3021.62,1513.64 L3024.19,1514.18 L3026.82,1514.63 L3029.49,1514.98 L3032.21,1515.23 L3034.95,1515.37 L3037.7,1515.41 L3040.45,1515.34 L3043.2,1515.17 L3045.92,1514.9 L3048.61,1514.52 L3051.25,1514.05 L3053.84,1513.48 L3056.36,1512.81 L3058.8,1512.05 L3061.15,1511.2 L3063.4,1510.26 L3065.54,1509.24 L3067.57,1508.14 L3343.75,1348.69 L3345.65,1347.52 L3347.42,1346.28 L3349.04,1344.98 L3350.52,1343.62 L3351.84,1342.21 L3353,1340.76 L3353.99,1339.26 L3354.81,1337.74 L3355.46,1336.19 L3355.93,1334.62 L3356.22,1333.03 L3356.34,1331.44 L3356.27,1329.85 L3356.02,1328.27 L3355.6,1326.7 L3355,1325.16 L3354.22,1323.64 L3353.27,1322.16 L3352.15,1320.71 L3350.88,1319.32 L3349.44,1317.97 L3347.86,1316.69 L3346.13,1315.47 L3344.26,1314.32 L3311.79,1295.57" stroke="#000" stroke-width="23.6" fill="none" stroke-linecap="round" stroke-linejoin="round"/>
<path d="M2975.57,1489.69 L3008.04,1508.43 L3010.03,1509.51 L3012.15,1510.51 L3014.37,1511.43 L3016.7,1512.25 L3019.12,1512.99 L3021.62,1513.64 L3024.19,1514.18 L3026.82,1514.63 L3029.49,1514.98 L3032.21,1515.23 L3034.95,1515.37 L3037.7,1515.41 L3040.45,1515.34 L3043.2,1515.17 L3045.92,1514.9 L3048.61,1514.52 L3051.25,1514.05 L3053.84,1513.48 L3056.36,1512.81 L3058.8,1512.05 L3061.15,1511.2 L3063.4,1510.26 L3065.54,1509.24 L3067.57,1508.14 L3343.75,1348.69 L3345.65,1347.52 L3347.42,1346.28 L3349.04,1344.98 L3350.52,1343.62 L3351.84,1342.21 L3353,1340.76 L3353.99,1339.26 L3354.81,1337.74 L3355.46,1336.19 L3355.93,1334.62 L3356.22,1333.03 L3356.34,1331.44 L3356.27,1329.85 L3356.02,1328.27 L3355.6,1326.7 L3355,1325.16 L3354.22,1323.64 L3353.27,1322.16 L3352.15,1320.71 L3350.88,1319.32 L3349.44,1317.97 L3347.86,1316.69 L3346.13,1315.47 L3344.26,1314.32 L3311.79,1295.57" stroke="#fff" stroke-width="17.9" fill="none" stroke-linecap="round" stroke-linejoin="round"/>
<path d="M2975.57,1402.93 L3008.04,1421.67 L3010.03,1422.75 L3012.15,1423.75 L3014.37,1424.66 L3016.7,1425.49 L3019.12,1426.23 L3021.62,1426.87 L3024.19,1427.42 L3026.82,1427.87 L3029.49,1428.22 L3032.21,1428.46 L3034.95,1428.6 L3037.7,1428.64 L3040.45,1428.58 L3043.2,1428.41 L3045.92,1428.14 L3048.61,1427.76 L3051.25,1427.29 L3053.84,1426.71 L3056.36,1426.05 L3058.8,1425.28 L3061.15,1424.43 L3063.4,1423.49 L3065.54,1422.48 L3067.57,1421.38 L3343.75,1261.92 L3345.65,1260.75 L3347.42,1259.52 L3349.04,1258.22 L3350.52,1256.86 L3351.84,1255.45 L3353,1253.99 L3353.99,1252.5 L3354.81,1250.98 L3355.46,1249.42 L3355.93,1247.85 L3356.22,1246.27 L3356.34,1244.68 L3356.27,1243.09 L3356.02,1241.51 L3355.6,1239.94 L3355,1238.39 L3354.22,1236.88 L3353.27,1235.39 L3352.15,1233.95 L3350.88,1232.55 L3349.44,1231.21 L3347.86,1229.92 L3346.13,1228.7 L3344.26,1227.55 L3311.79,1208.81" stroke="#000" stroke-width="23.6" fill="none" stroke-linecap="round" stroke-linejoin="round"/>
<path d="M2975.57,1402.93 L3008.04,1421.67 L3010.03,1422.75 L3012.15,1423.75 L3014.37,1424.66 L3016.7,1425.49 L3019.12,1426.23 L3021.62,1426.87 L3024.19,1427.42 L3026.82,1427.87 L3029.49,1428.22 L3032.21,1428.46 L3034.95,1428.6 L3037.7,1428.64 L3040.45,1428.58 L3043.2,1428.41 L3045.92,1428.14 L3048.61,1427.76 L3051.25,1427.29 L3053.84,1426.71 L3056.36,1426.05 L3058.8,1425.28 L3061.15,1424.43 L3063.4,1423.49 L3065.54,1422.48 L3067.57,1421.38 L3343.75,1261.92 L3345.65,1260.75 L3347.42,1259.52 L3349.04,1258.22 L3350.52,1256.86 L3351.84,1255.45 L3353,1253.99 L3353.99,1252.5 L3354.81,1250.98 L3355.46,1249.42 L3355.93,1247.85 L3356.22,1246.27 L3356.34,1244.68 L3356.27,1243.09 L3356.02,1241.51 L3355.6,1239.94 L3355,1238.39 L3354.22,1236.88 L3353.27,1235.39 L3352.15,1233.95 L3350.88,1232.55 L3349.44,1231.21 L3347.86,1229.92 L3346.13,1228.7 L3344.26,1227.55 L3311.79,1208.81" stroke="#fff" stroke-width="17.9" fill="none" stroke-linecap="round" stroke-linejoin="round"/>
<path d="M2975.57,1365.5 L3008.04,1384.24 L3010.03,1385.32 L3012.15,1386.32 L3014.37,1387.23 L3016.7,1388.06 L3019.12,1388.8 L3021.62,1389.44 L3024.19,1389.99 L3026.82,1390.44 L3029.49,1390.79 L3032.21,1391.03 L3034.95,1391.17 L3037.7,1391.21 L3040.45,1391.15 L3043.2,1390.98 L3045.92,1390.71 L3048.61,1390.33 L3051.25,1389.86 L3053.84,1389.28 L3056.36,1388.62 L3058.8,1387.85 L3061.15,1387 L3063.4,1386.06 L3065.54,1385.05 L3067.57,1383.95 L3343.75,1224.49 L3345.65,1223.32 L3347.42,1222.09 L3349.04,1220.79 L3350.52,1219.43 L3351.84,1218.02 L3353,1216.56 L3353.99,1215.07 L3354.81,1213.55 L3355.46,1211.99 L3355.93,1210.42 L3356.22,1208.84 L3356.34,1207.25 L3356.27,1205.66 L3356.02,1204.08 L3355.6,1202.51 L3355,1200.96 L3354.22,1199.45 L3353.27,1197.96 L3352.15,1196.52 L3350.88,1195.12 L3349.44,1193.78 L3347.86,1192.49 L3346.13,1191.27 L3344.26,1190.12 L3311.79,1171.38" stroke="#000" stroke-width="23.6" fill="none" stroke-linecap="round" stroke-linejoin="round"/>
<path d="M2975.57,1365.5 L3008.04,1384.24 L3010.03,1385.32 L3012.15,1386.32 L3014.37,1387.23 L3016.7,1388.06 L3019.12,1388.8 L3021.62,1389.44 L3024.19,1389.99 L3026.82,1390.44 L3029.49,1390.79 L3032.21,1391.03 L3034.95,1391.17 L3037.7,1391.21 L3040.45,1391.15 L3043.2,1390.98 L3045.92,1390.71 L3048.61,1390.33 L3051.25,1389.86 L3053.84,1389.28 L3056.36,1388.62 L3058.8,1387.85 L3061.15,1387 L3063.4,1386.06 L3065.54,1385.05 L3067.57,1383.95 L3343.75,1224.49 L3345.65,1223.32 L3347.42,1222.09 L3349.04,1220.79 L3350.52,1219.43 L3351.84,1218.02 L3353,1216.56 L3353.99,1215.07 L3354.81,1213.55 L3355.46,1211.99 L3355.93,1210.42 L3356.22,1208.84 L3356.34,1207.25 L3356.27,1205.66 L3356.02,1204.08 L3355.6,1202.51 L3355,1200.96 L3354.22,1199.45 L3353.27,1197.96 L3352.15,1196.52 L3350.88,1195.12 L3349.44,1193.78 L3347.86,1192.49 L3346.13,1191.27 L3344.26,1190.12 L3311.79,1171.38" stroke="#fff" stroke-width="17.9" fill="none" stroke-linecap="round" stroke-linejoin="round"/>
<path d="M2975.57,1328.07 L3008.04,1346.81 L3010.03,1347.89 L3012.15,1348.89 L3014.37,1349.8 L3016.7,1350.63 L3019.12,1351.37 L3021.62,1352.01 L3024.19,1352.56 L3026.82,1353.01 L3029.49,1353.36 L3032.21,1353.6 L3034.95,1353.74 L3037.7,1353.78 L3040.45,1353.72 L3043.2,1353.55 L3045.92,1353.28 L3048.61,1352.9 L3051.25,1352.43 L3053.84,1351.85 L3056.36,1351.19 L3058.8,1350.42 L3061.15,1349.57 L3063.4,1348.63 L3065.54,1347.62 L3067.57,1346.52 L3343.75,1187.06 L3345.65,1185.89 L3347.42,1184.66 L3349.04,1183.36 L3350.52,1182 L3351.84,1180.59 L3353,1179.13 L3353.99,1177.64 L3354.81,1176.12 L3355.46,1174.56 L3355.93,1172.99 L3356.22,1171.41 L3356.34,1169.82 L3356.27,1168.23 L3356.02,1166.65 L3355.6,1165.08 L3355,1163.53 L3354.22,1162.02 L3353.27,1160.53 L3352.15,1159.09 L3350.88,1157.69 L3349.44,1156.35 L3347.86,1155.06 L3346.13,1153.84 L3344.26,1152.69 L3311.79,1133.95" stroke="#000" stroke-width="23.6" fill="none" stroke-linecap="round" stroke-linejoin="round"/>
<path d="M2975.57,1328.07 L3008.04,1346.81 L3010.03,1347.89 L3012.15,1348.89 L3014.37,1349.8 L3016.7,1350.63 L3019.12,1351.37 L3021.62,1352.01 L3024.19,1352.56 L3026.82,1353.01 L3029.49,1353.36 L3032.21,1353.6 L3034.95,1353.74 L3037.7,1353.78 L3040.45,1353.72 L3043.2,1353.55 L3045.92,1353.28 L3048.61,1352.9 L3051.25,1352.43 L3053.84,1351.85 L3056.36,1351.19 L3058.8,1350.42 L3061.15,1349.57 L3063.4,1348.63 L3065.54,1347.62 L3067.57,1346.52 L3343.75,1187.06 L3345.65,1185.89 L3347.42,1184.66 L3349.04,1183.36 L3350.52,1182 L3351.84,1180.59 L3353,1179.13 L3353.99,1177.64 L3354.81,1176.12 L3355.46,1174.56 L3355.93,1172.99 L3356.22,1171.41 L3356.34,1169.82 L3356.27,1168.23 L3356.02,1166.65 L3355.6,1165.08 L3355,1163.53 L3354.22,1162.02 L3353.27,1160.53 L3352.15,1159.09 L3350.88,1157.69 L3349.44,1156.35 L3347.86,1155.06 L3346.13,1153.84 L3344.26,1152.69 L3311.79,1133.95" stroke="#fff" stroke-width="17.9" fill="none" stroke-linecap="round" stroke-linejoin="round"/>
<path d="M2975.57,1290.64 L3008.04,1309.38 L3010.03,1310.46 L3012.15,1311.46 L3014.37,1312.37 L3016.7,1313.2 L3019.12,1313.94 L3021.62,1314.58 L3024.19,1315.13 L3026.82,1315.58 L3029.49,1315.93 L3032.21,1316.17 L3034.95,1316.31 L3037.7,1316.35 L3040.45,1316.29 L3043.2,1316.12 L3045.92,1315.85 L3048.61,1315.47 L3051.25,1315 L3053.84,1314.42 L3056.36,1313.76 L3058.8,1312.99 L3061.15,1312.14 L3063.4,1311.21 L3065.54,1310.19 L3067.57,1309.09 L3343.75,1149.63 L3345.65,1148.46 L3347.42,1147.23 L3349.04,1145.93 L3350.52,1144.57 L3351.84,1143.16 L3353,1141.7 L3353.99,1140.21 L3354.81,1138.69 L3355.46,1137.13 L3355.93,1135.56 L3356.22,1133.98 L3356.34,1132.39 L3356.27,1130.8 L3356.02,1129.22 L3355.6,1127.65 L3355,1126.1 L3354.22,1124.59 L3353.27,1123.1 L3352.15,1121.66 L3350.88,1120.26 L3349.44,1118.92 L3347.86,1117.63 L3346.13,1116.41 L3344.26,1115.26 L3311.79,1096.52" stroke="#000" stroke-width="23.6" fill="none" stroke-linecap="round" stroke-linejoin="round"/>
<path d="M2975.57,1290.64 L3008.04,1309.38 L3010.03,1310.46 L3012.15,1311.46 L3014.37,1312.37 L3016.7,1313.2 L3019.12,1313.94 L3021.62,1314.58 L3024.19,1315.13 L3026.82,1315.58 L3029.49,1315.93 L3032.21,1316.17 L3034.95,1316.31 L3037.7,1316.35 L3040.45,1316.29 L3043.2,1316.12 L3045.92,1315.85 L3048.61,1315.47 L3051.25,1315 L3053.84,1314.42 L3056.36,1313.76 L3058.8,1312.99 L3061.15,1312.14 L3063.4,1311.21 L3065.54,1310.19 L3067.57,1309.09 L3343.75,1149.63 L3345.65,1148.46 L3347.42,1147.23 L3349.04,1145.93 L3350.52,1144.57 L3351.84,1143.16 L3353,1141.7 L3353.99,1140.21 L3354.81,1138.69 L3355.46,1137.13 L3355.93,1135.56 L3356.22,1133.98 L3356.34,1132.39 L3356.27,1130.8 L3356.02,1129.22 L3355.6,1127.65 L3355,1126.1 L3354.22,1124.59 L3353.27,1123.1 L3352.15,1121.66 L3350.88,1120.26 L3349.44,1118.92 L3347.86,1117.63 L3346.13,1116.41 L3344.26,1115.26 L3311.79,1096.52" stroke="#fff" stroke-width="17.9" fill="none" stroke-linecap="round" stroke-linejoin="round"/>
<path d="M2975.57,1253.21 L3008.04,1271.95 L3010.03,1273.03 L3012.15,1274.03 L3014.37,1274.94 L3016.7,1275.77 L3019.12,1276.51 L3021.62,1277.15 L3024.19,1277.7 L3026.82,1278.15 L3029.49,1278.5 L3032.21,1278.74 L3034.95,1278.88 L3037.7,1278.92 L3040.45,1278.86 L3043.2,1278.69 L3045.92,1278.42 L3048.61,1278.04 L3051.25,1277.57 L3053.84,1276.99 L3056.36,1276.33 L3058.8,1275.56 L3061.15,1274.71 L3063.4,1273.78 L3065.54,1272.76 L3067.57,1271.66 L3343.75,1112.2 L3345.65,1111.03 L3347.42,1109.8 L3349.04,1108.5 L3350.52,1107.14 L3351.84,1105.73 L3353,1104.27 L3353.99,1102.78 L3354.81,1101.26 L3355.46,1099.7 L3355.93,1098.13 L3356.22,1096.55 L3356.34,1094.96 L3356.27,1093.37 L3356.02,1091.79 L3355.6,1090.22 L3355,1088.67 L3354.22,1087.16 L3353.27,1085.67 L3352.15,1084.23 L3350.88,1082.83 L3349.44,1081.49 L3347.86,1080.2 L3346.13,1078.98 L3344.26,1077.83 L3311.79,1059.09" stroke="#000" stroke-width="23.6" fill="none" stroke-linecap="round" stroke-linejoin="round"/>
<path d="M2975.57,1253.21 L3008.04,1271.95 L3010.03,1273.03 L3012.15,1274.03 L3014.37,1274.94 L3016.7,1275.77 L3019.12,1276.51 L3021.62,1277.15 L3024.19,1277.7 L3026.82,1278.15 L3029.49,1278.5 L3032.21,1278.74 L3034.95,1278.88 L3037.7,1278.92 L3040.45,1278.86 L3043.2,1278.69 L3045.92,1278.42 L3048.61,1278.04 L3051.25,1277.57 L3053.84,1276.99 L3056.36,1276.33 L3058.8,1275.56 L3061.15,1274.71 L3063.4,1273.78 L3065.54,1272.76 L3067.57,1271.66 L3343.75,1112.2 L3345.65,1111.03 L3347.42,1109.8 L3349.04,1108.5 L3350.52,1107.14 L3351.84,1105.73 L3353,1104.27 L3353.99,1102.78 L3354.81,1101.26 L3355.46,1099.7 L3355.93,1098.13 L3356.22,1096.55 L3356.34,1094.96 L3356.27,1093.37 L3356.02,1091.79 L3355.6,1090.22 L3355,1088.67 L3354.22,1087.16 L3353.27,1085.67 L3352.15,1084.23 L3350.88,1082.83 L3349.44,1081.49 L3347.86,1080.2 L3346.13,1078.98 L3344.26,1077.83 L3311.79,1059.09" stroke="#fff" stroke-width="17.9" fill="none" stroke-linecap="round" stroke-linejoin="round"/>
<path d="M2975.57,1215.78 L3008.04,1234.52 L3010.03,1235.6 L3012.15,1236.6 L3014.37,1237.51 L3016.7,1238.34 L3019.12,1239.08 L3021.62,1239.72 L3024.19,1240.27 L3026.82,1240.72 L3029.49,1241.07 L3032.21,1241.31 L3034.95,1241.45 L3037.7,1241.49 L3040.45,1241.43 L3043.2,1241.26 L3045.92,1240.99 L3048.61,1240.61 L3051.25,1240.14 L3053.84,1239.56 L3056.36,1238.9 L3058.8,1238.13 L3061.15,1237.28 L3063.4,1236.35 L3065.54,1235.33 L3067.57,1234.23 L3343.75,1074.77 L3345.65,1073.6 L3347.42,1072.37 L3349.04,1071.07 L3350.52,1069.71 L3351.84,1068.3 L3353,1066.84 L3353.99,1065.35 L3354.81,1063.83 L3355.46,1062.27 L3355.93,1060.7 L3356.22,1059.12 L3356.34,1057.53 L3356.27,1055.94 L3356.02,1054.36 L3355.6,1052.79 L3355,1051.24 L3354.22,1049.73 L3353.27,1048.24 L3352.15,1046.8 L3350.88,1045.4 L3349.44,1044.06 L3347.86,1042.77 L3346.13,1041.55 L3344.26,1040.4 L3311.79,1021.66" stroke="#000" stroke-width="23.6" fill="none" stroke-linecap="round" stroke-linejoin="round"/>
<path d="M2975.57,1215.78 L3008.04,1234.52 L3010.03,1235.6 L3012.15,1236.6 L3014.37,1237.51 L3016.7,1238.34 L3019.12,1239.08 L3021.62,1239.72 L3024.19,1240.27 L3026.82,1240.72 L3029.49,1241.07 L3032.21,1241.31 L3034.95,1241.45 L3037.7,1241.49 L3040.45,1241.43 L3043.2,1241.26 L3045.92,1240.99 L3048.61,1240.61 L3051.25,1240.14 L3053.84,1239.56 L3056.36,1238.9 L3058.8,1238.13 L3061.15,1237.28 L3063.4,1236.35 L3065.54,1235.33 L3067.57,1234.23 L3343.75,1074.77 L3345.65,1073.6 L3347.42,1072.37 L3349.04,1071.07 L3350.52,1069.71 L3351.84,1068.3 L3353,1066.84 L3353.99,1065.35 L3354.81,1063.83 L3355.46,1062.27 L3355.93,1060.7 L3356.22,1059.12 L3356.34,1057.53 L3356.27,1055.94 L3356.02,1054.36 L3355.6,1052.79 L3355,1051.24 L3354.22,1049.73 L3353.27,1048.24 L3352.15,1046.8 L3350.88,1045.4 L3349.44,1044.06 L3347.86,1042.77 L3346.13,1041.55 L3344.26,1040.4 L3311.79,1021.66" stroke="#fff" stroke-width="17.9" fill="none" stroke-linecap="round" stroke-linejoin="round"/>
<path d="M2975.57,1178.35 L3008.04,1197.09 L3010.03,1198.17 L3012.15,1199.17 L3014.37,1200.08 L3016.7,1200.91 L3019.12,1201.65 L3021.62,1202.29 L3024.19,1202.84 L3026.82,1203.29 L3029.49,1203.64 L3032.21,1203.88 L3034.95,1204.02 L3037.7,1204.06 L3040.45,1204 L3043.2,1203.83 L3045.92,1203.56 L3048.61,1203.18 L3051.25,1202.71 L3053.84,1202.13 L3056.36,1201.47 L3058.8,1200.7 L3061.15,1199.85 L3063.4,1198.92 L3065.54,1197.9 L3067.57,1196.8 L3343.75,1037.34 L3345.65,1036.17 L3347.42,1034.94 L3349.04,1033.64 L3350.52,1032.28 L3351.84,1030.87 L3353,1029.41 L3353.99,1027.92 L3354.81,1026.4 L3355.46,1024.84 L3355.93,1023.27 L3356.22,1021.69 L3356.34,1020.1 L3356.27,1018.51 L3356.02,1016.93 L3355.6,1015.36 L3355,1013.81 L3354.22,1012.3 L3353.27,1010.81 L3352.15,1009.37 L3350.88,1007.97 L3349.44,1006.63 L3347.86,1005.34 L3346.13,1004.12 L3344.26,1002.97 L3311.79,984.23" stroke="#000" stroke-width="23.6" fill="none" stroke-linecap="round" stroke-linejoin="round"/>
<path d="M2975.57,1178.35 L3008.04,1197.09 L3010.03,1198.17 L3012.15,1199.17 L3014.37,1200.08 L3016.7,1200.91 L3019.12,1201.65 L3021.62,1202.29 L3024.19,1202.84 L3026.82,1203.29 L3029.49,1203.64 L3032.21,1203.88 L3034.95,1204.02 L3037.7,1204.06 L3040.45,1204 L3043.2,1203.83 L3045.92,1203.56 L3048.61,1203.18 L3051.25,1202.71 L3053.84,1202.13 L3056.36,1201.47 L3058.8,1200.7 L3061.15,1199.85 L3063.4,1198.92 L3065.54,1197.9 L3067.57,1196.8 L3343.75,1037.34 L3345.65,1036.17 L3347.42,1034.94 L3349.04,1033.64 L3350.52,1032.28 L3351.84,1030.87 L3353,1029.41 L3353.99,1027.92 L3354.81,1026.4 L3355.46,1024.84 L3355.93,1023.27 L3356.22,1021.69 L3356.34,1020.1 L3356.27,1018.51 L3356.02,1016.93 L3355.6,1015.36 L3355,1013.81 L3354.22,1012.3 L3353.27,1010.81 L3352.15,1009.37 L3350.88,1007.97 L3349.44,1006.63 L3347.86,1005.34 L3346.13,1004.12 L3344.26,1002.97 L3311.79,984.23" stroke="#fff" stroke-width="17.9" fill="none" stroke-linecap="round" stroke-linejoin="round"/>
<path d="M2975.57,1091.42 L3008.04,1110.16 L3010.03,1111.24 L3012.15,1112.24 L3014.37,1113.15 L3016.7,1113.98 L3019.12,1114.72 L3021.62,1115.37 L3024.19,1115.91 L3026.82,1116.36 L3029.49,1116.71 L3032.21,1116.96 L3034.95,1117.1 L3037.7,1117.14 L3040.45,1117.07 L3043.2,1116.9 L3045.92,1116.63 L3048.61,1116.25 L3051.25,1115.78 L3053.84,1115.21 L3056.36,1114.54 L3058.8,1113.78 L3061.15,1112.93 L3063.4,1111.99 L3065.54,1110.97 L3067.57,1109.87 L3343.75,950.42 L3345.65,949.25 L3347.42,948.01 L3349.04,946.71 L3350.52,945.35 L3351.84,943.94 L3353,942.49 L3353.99,940.99 L3354.81,939.47 L3355.46,937.92 L3355.93,936.34 L3356.22,934.76 L3356.34,933.17 L3356.27,931.58 L3356.02,930 L3355.6,928.43 L3355,926.89 L3354.22,925.37 L3353.27,923.89 L3352.15,922.44 L3350.88,921.05 L3349.44,919.7 L3347.86,918.42 L3346.13,917.2 L3344.26,916.05 L3311.79,897.3" stroke="#000" stroke-width="23.6" fill="none" stroke-linecap="round" stroke-linejoin="round"/>
<path d="M2975.57,1091.42 L3008.04,1110.16 L3010.03,1111.24 L3012.15,1112.24 L3014.37,1113.15 L3016.7,1113.98 L3019.12,1114.72 L3021.62,1115.37 L3024.19,1115.91 L3026.82,1116.36 L3029.49,1116.71 L3032.21,1116.96 L3034.95,1117.1 L3037.7,1117.14 L3040.45,1117.07 L3043.2,1116.9 L3045.92,1116.63 L3048.61,1116.25 L3051.25,1115.78 L3053.84,1115.21 L3056.36,1114.54 L3058.8,1113.78 L3061.15,1112.93 L3063.4,1111.99 L3065.54,1110.97 L3067.57,1109.87 L3343.75,950.42 L3345.65,949.25 L3347.42,948.01 L3349.04,946.71 L3350.52,945.35 L3351.84,943.94 L3353,942.49 L3353.99,940.99 L3354.81,939.47 L3355.46,937.92 L3355.93,936.34 L3356.22,934.76 L3356.34,933.17 L3356.27,931.58 L3356.02,930 L3355.6,928.43 L3355,926.89 L3354.22,925.37 L3353.27,923.89 L3352.15,922.44 L3350.88,921.05 L3349.44,919.7 L3347.86,918.42 L3346.13,917.2 L3344.26,916.05 L3311.79,897.3" stroke="#fff" stroke-width="17.9" fill="none" stroke-linecap="round" stroke-linejoin="round"/>
<path d="M2975.57,1053.99 L3008.04,1072.73 L3010.03,1073.81 L3012.15,1074.81 L3014.37,1075.72 L3016.7,1076.55 L3019.12,1077.29 L3021.62,1077.94 L3024.19,1078.48 L3026.82,1078.93 L3029.49,1079.28 L3032.21,1079.53 L3034.95,1079.67 L3037.7,1079.71 L3040.45,1079.64 L3043.2,1079.47 L3045.92,1079.2 L3048.61,1078.82 L3051.25,1078.35 L3053.84,1077.78 L3056.36,1077.11 L3058.8,1076.35 L3061.15,1075.5 L3063.4,1074.56 L3065.54,1073.54 L3067.57,1072.44 L3343.75,912.99 L3345.65,911.82 L3347.42,910.58 L3349.04,909.28 L3350.52,907.92 L3351.84,906.51 L3353,905.06 L3353.99,903.56 L3354.81,902.04 L3355.46,900.49 L3355.93,898.91 L3356.22,897.33 L3356.34,895.74 L3356.27,894.15 L3356.02,892.57 L3355.6,891 L3355,889.46 L3354.22,887.94 L3353.27,886.46 L3352.15,885.01 L3350.88,883.62 L3349.44,882.27 L3347.86,880.99 L3346.13,879.77 L3344.26,878.62 L3311.79,859.87" stroke="#000" stroke-width="23.6" fill="none" stroke-linecap="round" stroke-linejoin="round"/>
<path d="M2975.57,1053.99 L3008.04,1072.73 L3010.03,1073.81 L3012.15,1074.81 L3014.37,1075.72 L3016.7,1076.55 L3019.12,1077.29 L3021.62,1077.94 L3024.19,1078.48 L3026.82,1078.93 L3029.49,1079.28 L3032.21,1079.53 L3034.95,1079.67 L3037.7,1079.71 L3040.45,1079.64 L3043.2,1079.47 L3045.92,1079.2 L3048.61,1078.82 L3051.25,1078.35 L3053.84,1077.78 L3056.36,1077.11 L3058.8,1076.35 L3061.15,1075.5 L3063.4,1074.56 L3065.54,1073.54 L3067.57,1072.44 L3343.75,912.99 L3345.65,911.82 L3347.42,910.58 L3349.04,909.28 L3350.52,907.92 L3351.84,906.51 L3353,905.06 L3353.99,903.56 L3354.81,902.04 L3355.46,900.49 L3355.93,898.91 L3356.22,897.33 L3356.34,895.74 L3356.27,894.15 L3356.02,892.57 L3355.6,891 L3355,889.46 L3354.22,887.94 L3353.27,886.46 L3352.15,885.01 L3350.88,883.62 L3349.44,882.27 L3347.86,880.99 L3346.13,879.77 L3344.26,878.62 L3311.79,859.87" stroke="#fff" stroke-width="17.9" fill="none" stroke-linecap="round" stroke-linejoin="round"/>
<path d="M2975.57,1016.56 L3008.04,1035.3 L3010.03,1036.38 L3012.15,1037.38 L3014.37,1038.29 L3016.7,1039.12 L3019.12,1039.86 L3021.62,1040.51 L3024.19,1041.05 L3026.82,1041.5 L3029.49,1041.85 L3032.21,1042.1 L3034.95,1042.24 L3037.7,1042.28 L3040.45,1042.21 L3043.2,1042.04 L3045.92,1041.77 L3048.61,1041.39 L3051.25,1040.92 L3053.84,1040.35 L3056.36,1039.68 L3058.8,1038.92 L3061.15,1038.07 L3063.4,1037.13 L3065.54,1036.11 L3067.57,1035.01 L3343.75,875.56 L3345.65,874.39 L3347.42,873.15 L3349.04,871.85 L3350.52,870.49 L3351.84,869.08 L3353,867.63 L3353.99,866.13 L3354.81,864.61 L3355.46,863.06 L3355.93,861.48 L3356.22,859.9 L3356.34,858.31 L3356.27,856.72 L3356.02,855.14 L3355.6,853.57 L3355,852.03 L3354.22,850.51 L3353.27,849.03 L3352.15,847.58 L3350.88,846.19 L3349.44,844.84 L3347.86,843.56 L3346.13,842.34 L3344.26,841.19 L3311.79,822.44" stroke="#000" stroke-width="23.6" fill="none" stroke-linecap="round" stroke-linejoin="round"/>
<path d="M2975.57,1016.56 L3008.04,1035.3 L3010.03,1036.38 L3012.15,1037.38 L3014.37,1038.29 L3016.7,1039.12 L3019.12,1039.86 L3021.62,1040.51 L3024.19,1041.05 L3026.82,1041.5 L3029.49,1041.85 L3032.21,1042.1 L3034.95,1042.24 L3037.7,1042.28 L3040.45,1042.21 L3043.2,1042.04 L3045.92,1041.77 L3048.61,1041.39 L3051.25,1040.92 L3053.84,1040.35 L3056.36,1039.68 L3058.8,1038.92 L3061.15,1038.07 L3063.4,1037.13 L3065.54,1036.11 L3067.57,1035.01 L3343.75,875.56 L3345.65,874.39 L3347.42,873.15 L3349.04,871.85 L3350.52,870.49 L3351.84,869.08 L3353,867.63 L3353.99,866.13 L3354.81,864.61 L3355.46,863.06 L3355.93,861.48 L3356.22,859.9 L3356.34,858.31 L3356.27,856.72 L3356.02,855.14 L3355.6,853.57 L3355,852.03 L3354.22,850.51 L3353.27,849.03 L3352.15,847.58 L3350.88,846.19 L3349.44,844.84 L3347.86,843.56 L3346.13,842.34 L3344.26,841.19 L3311.79,822.44" stroke="#fff" stroke-width="17.9" fill="none" stroke-linecap="round" stroke-linejoin="round"/>
<path d="M2975.57,979.13 L3008.04,997.87 L3010.03,998.95 L3012.15,999.95 L3014.37,1000.86 L3016.7,1001.69 L3019.12,1002.43 L3021.62,1003.08 L3024.19,1003.62 L3026.82,1004.07 L3029.49,1004.42 L3032.21,1004.67 L3034.95,1004.81 L3037.7,1004.85 L3040.45,1004.78 L3043.2,1004.61 L3045.92,1004.34 L3048.61,1003.96 L3051.25,1003.49 L3053.84,1002.92 L3056.36,1002.25 L3058.8,1001.49 L3061.15,1000.64 L3063.4,999.7 L3065.54,998.68 L3067.57,997.58 L3343.75,838.13 L3345.65,836.96 L3347.42,835.72 L3349.04,834.42 L3350.52,833.06 L3351.84,831.65 L3353,830.2 L3353.99,828.7 L3354.81,827.18 L3355.46,825.63 L3355.93,824.05 L3356.22,822.47 L3356.34,820.88 L3356.27,819.29 L3356.02,817.71 L3355.6,816.14 L3355,814.6 L3354.22,813.08 L3353.27,811.6 L3352.15,810.15 L3350.88,808.76 L3349.44,807.41 L3347.86,806.13 L3346.13,804.91 L3344.26,803.76 L3311.79,785.01" stroke="#000" stroke-width="23.6" fill="none" stroke-linecap="round" stroke-linejoin="round"/>
<path d="M2975.57,979.13 L3008.04,997.87 L3010.03,998.95 L3012.15,999.95 L3014.37,1000.86 L3016.7,1001.69 L3019.12,1002.43 L3021.62,1003.08 L3024.19,1003.62 L3026.82,1004.07 L3029.49,1004.42 L3032.21,1004.67 L3034.95,1004.81 L3037.7,1004.85 L3040.45,1004.78 L3043.2,1004.61 L3045.92,1004.34 L3048.61,1003.96 L3051.25,1003.49 L3053.84,1002.92 L3056.36,1002.25 L3058.8,1001.49 L3061.15,1000.64 L3063.4,999.7 L3065.54,998.68 L3067.57,997.58 L3343.75,838.13 L3345.65,836.96 L3347.42,835.72 L3349.04,834.42 L3350.52,833.06 L3351.84,831.65 L3353,830.2 L3353.99,828.7 L3354.81,827.18 L3355.46,825.63 L3355.93,824.05 L3356.22,822.47 L3356.34,820.88 L3356.27,819.29 L3356.02,817.71 L3355.6,816.14 L3355,814.6 L3354.22,813.08 L3353.27,811.6 L3352.15,810.15 L3350.88,808.76 L3349.44,807.41 L3347.86,806.13 L3346.13,804.91 L3344.26,803.76 L3311.79,785.01" stroke="#fff" stroke-width="17.9" fill="none" stroke-linecap="round" stroke-linejoin="round"/>
<path d="M2975.57,941.7 L3008.04,960.44 L3010.03,961.52 L3012.15,962.52 L3014.37,963.44 L3016.7,964.26 L3019.12,965 L3021.62,965.65 L3024.19,966.19 L3026.82,966.64 L3029.49,966.99 L3032.21,967.24 L3034.95,967.38 L3037.7,967.42 L3040.45,967.35 L3043.2,967.18 L3045.92,966.91 L3048.61,966.53 L3051.25,966.06 L3053.84,965.49 L3056.36,964.82 L3058.8,964.06 L3061.15,963.21 L3063.4,962.27 L3065.54,961.25 L3067.57,960.15 L3343.75,800.7 L3345.65,799.53 L3347.42,798.29 L3349.04,796.99 L3350.52,795.63 L3351.84,794.22 L3353,792.77 L3353.99,791.27 L3354.81,789.75 L3355.46,788.2 L3355.93,786.62 L3356.22,785.04 L3356.34,783.45 L3356.27,781.86 L3356.02,780.28 L3355.6,778.71 L3355,777.17 L3354.22,775.65 L3353.27,774.17 L3352.15,772.72 L3350.88,771.33 L3349.44,769.98 L3347.86,768.7 L3346.13,767.48 L3344.26,766.33 L3311.79,747.58" stroke="#000" stroke-width="23.6" fill="none" stroke-linecap="round" stroke-linejoin="round"/>
<path d="M2975.57,941.7 L3008.04,960.44 L3010.03,961.52 L3012.15,962.52 L3014.37,963.44 L3016.7,964.26 L3019.12,965 L3021.62,965.65 L3024.19,966.19 L3026.82,966.64 L3029.49,966.99 L3032.21,967.24 L3034.95,967.38 L3037.7,967.42 L3040.45,967.35 L3043.2,967.18 L3045.92,966.91 L3048.61,966.53 L3051.25,966.06 L3053.84,965.49 L3056.36,964.82 L3058.8,964.06 L3061.15,963.21 L3063.4,962.27 L3065.54,961.25 L3067.57,960.15 L3343.75,800.7 L3345.65,799.53 L3347.42,798.29 L3349.04,796.99 L3350.52,795.63 L3351.84,794.22 L3353,792.77 L3353.99,791.27 L3354.81,789.75 L3355.46,788.2 L3355.93,786.62 L3356.22,785.04 L3356.34,783.45 L3356.27,781.86 L3356.02,780.28 L3355.6,778.71 L3355,777.17 L3354.22,775.65 L3353.27,774.17 L3352.15,772.72 L3350.88,771.33 L3349.44,769.98 L3347.86,768.7 L3346.13,767.48 L3344.26,766.33 L3311.79,747.58" stroke="#fff" stroke-width="17.9" fill="none" stroke-linecap="round" stroke-linejoin="round"/>
<path d="M2975.57,904.27 L3008.04,923.01 L3010.03,924.09 L3012.15,925.09 L3014.37,926.01 L3016.7,926.83 L3019.12,927.57 L3021.62,928.22 L3024.19,928.76 L3026.82,929.21 L3029.49,929.56 L3032.21,929.81 L3034.95,929.95 L3037.7,929.99 L3040.45,929.92 L3043.2,929.75 L3045.92,929.48 L3048.61,929.1 L3051.25,928.63 L3053.84,928.06 L3056.36,927.39 L3058.8,926.63 L3061.15,925.78 L3063.4,924.84 L3065.54,923.82 L3067.57,922.72 L3343.75,763.27 L3345.65,762.1 L3347.42,760.86 L3349.04,759.56 L3350.52,758.2 L3351.84,756.79 L3353,755.34 L3353.99,753.84 L3354.81,752.32 L3355.46,750.77 L3355.93,749.2 L3356.22,747.61 L3356.34,746.02 L3356.27,744.43 L3356.02,742.85 L3355.6,741.28 L3355,739.74 L3354.22,738.22 L3353.27,736.74 L3352.15,735.29 L3350.88,733.9 L3349.44,732.55 L3347.86,731.27 L3346.13,730.05 L3344.26,728.9 L3311.79,710.15" stroke="#000" stroke-width="23.6" fill="none" stroke-linecap="round" stroke-linejoin="round"/>
<path d="M2975.57,904.27 L3008.04,923.01 L3010.03,924.09 L3012.15,925.09 L3014.37,926.01 L3016.7,926.83 L3019.12,927.57 L3021.62,928.22 L3024.19,928.76 L3026.82,929.21 L3029.49,929.56 L3032.21,929.81 L3034.95,929.95 L3037.7,929.99 L3040.45,929.92 L3043.2,929.75 L3045.92,929.48 L3048.61,929.1 L3051.25,928.63 L3053.84,928.06 L3056.36,927.39 L3058.8,926.63 L3061.15,925.78 L3063.4,924.84 L3065.54,923.82 L3067.57,922.72 L3343.75,763.27 L3345.65,762.1 L3347.42,760.86 L3349.04,759.56 L3350.52,758.2 L3351.84,756.79 L3353,755.34 L3353.99,753.84 L3354.81,752.32 L3355.46,750.77 L3355.93,749.2 L3356.22,747.61 L3356.34,746.02 L3356.27,744.43 L3356.02,742.85 L3355.6,741.28 L3355,739.74 L3354.22,738.22 L3353.27,736.74 L3352.15,735.29 L3350.88,733.9 L3349.44,732.55 L3347.86,731.27 L3346.13,730.05 L3344.26,728.9 L3311.79,710.15" stroke="#fff" stroke-width="17.9" fill="none" stroke-linecap="round" stroke-linejoin="round"/>
<path d="M2975.57,866.84 L3008.04,885.58 L3010.03,886.66 L3012.15,887.66 L3014.37,888.58 L3016.7,889.4 L3019.12,890.14 L3021.62,890.79 L3024.19,891.33 L3026.82,891.78 L3029.49,892.13 L3032.21,892.38 L3034.95,892.52 L3037.7,892.56 L3040.45,892.49 L3043.2,892.32 L3045.92,892.05 L3048.61,891.67 L3051.25,891.2 L3053.84,890.63 L3056.36,889.96 L3058.8,889.2 L3061.15,888.35 L3063.4,887.41 L3065.54,886.39 L3067.57,885.29 L3343.75,725.84 L3345.65,724.67 L3347.42,723.43 L3349.04,722.13 L3350.52,720.77 L3351.84,719.36 L3353,717.91 L3353.99,716.41 L3354.81,714.89 L3355.46,713.34 L3355.93,711.77 L3356.22,710.18 L3356.34,708.59 L3356.27,707 L3356.02,705.42 L3355.6,703.85 L3355,702.31 L3354.22,700.79 L3353.27,699.31 L3352.15,697.86 L3350.88,696.47 L3349.44,695.12 L3347.86,693.84 L3346.13,692.62 L3344.26,691.47 L3311.79,672.72" stroke="#000" stroke-width="23.6" fill="none" stroke-linecap="round" stroke-linejoin="round"/>
<path d="M2975.57,866.84 L3008.04,885.58 L3010.03,886.66 L3012.15,887.66 L3014.37,888.58 L3016.7,889.4 L3019.12,890.14 L3021.62,890.79 L3024.19,891.33 L3026.82,891.78 L3029.49,892.13 L3032.21,892.38 L3034.95,892.52 L3037.7,892.56 L3040.45,892.49 L3043.2,892.32 L3045.92,892.05 L3048.61,891.67 L3051.25,891.2 L3053.84,890.63 L3056.36,889.96 L3058.8,889.2 L3061.15,888.35 L3063.4,887.41 L3065.54,886.39 L3067.57,885.29 L3343.75,725.84 L3345.65,724.67 L3347.42,723.43 L3349.04,722.13 L3350.52,720.77 L3351.84,719.36 L3353,717.91 L3353.99,716.41 L3354.81,714.89 L3355.46,713.34 L3355.93,711.77 L3356.22,710.18 L3356.34,708.59 L3356.27,707 L3356.02,705.42 L3355.6,703.85 L3355,702.31 L3354.22,700.79 L3353.27,699.31 L3352.15,697.86 L3350.88,696.47 L3349.44,695.12 L3347.86,693.84 L3346.13,692.62 L3344.26,691.47 L3311.79,672.72" stroke="#fff" stroke-width="17.9" fill="none" stroke-linecap="round" stroke-linejoin="round"/>
<path d="M2975.57,779.5 L3008.04,798.25 L3010.03,799.32 L3012.15,800.32 L3014.37,801.24 L3016.7,802.07 L3019.12,802.8 L3021.62,803.45 L3024.19,804 L3026.82,804.45 L3029.49,804.79 L3032.21,805.04 L3034.95,805.18 L3037.7,805.22 L3040.45,805.15 L3043.2,804.99 L3045.92,804.71 L3048.61,804.34 L3051.25,803.86 L3053.84,803.29 L3056.36,802.62 L3058.8,801.86 L3061.15,801.01 L3063.4,800.07 L3065.54,799.05 L3067.57,797.96 L3343.75,638.5 L3345.65,637.33 L3347.42,636.09 L3349.04,634.79 L3350.52,633.43 L3351.84,632.03 L3353,630.57 L3353.99,629.08 L3354.81,627.55 L3355.46,626 L3355.93,624.43 L3356.22,622.84 L3356.34,621.25 L3356.27,619.67 L3356.02,618.08 L3355.6,616.52 L3355,614.97 L3354.22,613.45 L3353.27,611.97 L3352.15,610.53 L3350.88,609.13 L3349.44,607.79 L3347.86,606.5 L3346.13,605.28 L3344.26,604.13 L3311.79,585.38" stroke="#000" stroke-width="23.6" fill="none" stroke-linecap="round" stroke-linejoin="round"/>
<path d="M2975.57,779.5 L3008.04,798.25 L3010.03,799.32 L3012.15,800.32 L3014.37,801.24 L3016.7,802.07 L3019.12,802.8 L3021.62,803.45 L3024.19,804 L3026.82,804.45 L3029.49,804.79 L3032.21,805.04 L3034.95,805.18 L3037.7,805.22 L3040.45,805.15 L3043.2,804.99 L3045.92,804.71 L3048.61,804.34 L3051.25,803.86 L3053.84,803.29 L3056.36,802.62 L3058.8,801.86 L3061.15,801.01 L3063.4,800.07 L3065.54,799.05 L3067.57,797.96 L3343.75,638.5 L3345.65,637.33 L3347.42,636.09 L3349.04,634.79 L3350.52,633.43 L3351.84,632.03 L3353,630.57 L3353.99,629.08 L3354.81,627.55 L3355.46,626 L3355.93,624.43 L3356.22,622.84 L3356.34,621.25 L3356.27,619.67 L3356.02,618.08 L3355.6,616.52 L3355,614.97 L3354.22,613.45 L3353.27,611.97 L3352.15,610.53 L3350.88,609.13 L3349.44,607.79 L3347.86,606.5 L3346.13,605.28 L3344.26,604.13 L3311.79,585.38" stroke="#fff" stroke-width="17.9" fill="none" stroke-linecap="round" stroke-linejoin="round"/>
<path d="M2975.57,742.07 L3008.04,760.82 L3010.03,761.89 L3012.15,762.89 L3014.37,763.81 L3016.7,764.64 L3019.12,765.37 L3021.62,766.02 L3024.19,766.57 L3026.82,767.02 L3029.49,767.36 L3032.21,767.61 L3034.95,767.75 L3037.7,767.79 L3040.45,767.72 L3043.2,767.56 L3045.92,767.28 L3048.61,766.91 L3051.25,766.43 L3053.84,765.86 L3056.36,765.19 L3058.8,764.43 L3061.15,763.58 L3063.4,762.64 L3065.54,761.62 L3067.57,760.53 L3343.75,601.07 L3345.65,599.9 L3347.42,598.66 L3349.04,597.36 L3350.52,596 L3351.84,594.6 L3353,593.14 L3353.99,591.65 L3354.81,590.12 L3355.46,588.57 L3355.93,587 L3356.22,585.41 L3356.34,583.82 L3356.27,582.24 L3356.02,580.65 L3355.6,579.09 L3355,577.54 L3354.22,576.02 L3353.27,574.54 L3352.15,573.1 L3350.88,571.7 L3349.44,570.36 L3347.86,569.07 L3346.13,567.85 L3344.26,566.7 L3311.79,547.95" stroke="#000" stroke-width="23.6" fill="none" stroke-linecap="round" stroke-linejoin="round"/>
<path d="M2975.57,742.07 L3008.04,760.82 L3010.03,761.89 L3012.15,762.89 L3014.37,763.81 L3016.7,764.64 L3019.12,765.37 L3021.62,766.02 L3024.19,766.57 L3026.82,767.02 L3029.49,767.36 L3032.21,767.61 L3034.95,767.75 L3037.7,767.79 L3040.45,767.72 L3043.2,767.56 L3045.92,767.28 L3048.61,766.91 L3051.25,766.43 L3053.84,765.86 L3056.36,765.19 L3058.8,764.43 L3061.15,763.58 L3063.4,762.64 L3065.54,761.62 L3067.57,760.53 L3343.75,601.07 L3345.65,599.9 L3347.42,598.66 L3349.04,597.36 L3350.52,596 L3351.84,594.6 L3353,593.14 L3353.99,591.65 L3354.81,590.12 L3355.46,588.57 L3355.93,587 L3356.22,585.41 L3356.34,583.82 L3356.27,582.24 L3356.02,580.65 L3355.6,579.09 L3355,577.54 L3354.22,576.02 L3353.27,574.54 L3352.15,573.1 L3350.88,571.7 L3349.44,570.36 L3347.86,569.07 L3346.13,567.85 L3344.26,566.7 L3311.79,547.95" stroke="#fff" stroke-width="17.9" fill="none" stroke-linecap="round" stroke-linejoin="round"/>
<path d="M2975.57,704.64 L3008.04,723.39 L3010.03,724.46 L3012.15,725.46 L3014.37,726.38 L3016.7,727.21 L3019.12,727.94 L3021.62,728.59 L3024.19,729.14 L3026.82,729.59 L3029.49,729.93 L3032.21,730.18 L3034.95,730.32 L3037.7,730.36 L3040.45,730.29 L3043.2,730.13 L3045.92,729.85 L3048.61,729.48 L3051.25,729 L3053.84,728.43 L3056.36,727.76 L3058.8,727 L3061.15,726.15 L3063.4,725.21 L3065.54,724.19 L3067.57,723.1 L3343.75,563.64 L3345.65,562.47 L3347.42,561.23 L3349.04,559.93 L3350.52,558.57 L3351.84,557.17 L3353,555.71 L3353.99,554.22 L3354.81,552.69 L3355.46,551.14 L3355.93,549.57 L3356.22,547.98 L3356.34,546.39 L3356.27,544.81 L3356.02,543.22 L3355.6,541.66 L3355,540.11 L3354.22,538.59 L3353.27,537.11 L3352.15,535.67 L3350.88,534.27 L3349.44,532.93 L3347.86,531.64 L3346.13,530.42 L3344.26,529.27 L3311.79,510.52" stroke="#000" stroke-width="23.6" fill="none" stroke-linecap="round" stroke-linejoin="round"/>
<path d="M2975.57,704.64 L3008.04,723.39 L3010.03,724.46 L3012.15,725.46 L3014.37,726.38 L3016.7,727.21 L3019.12,727.94 L3021.62,728.59 L3024.19,729.14 L3026.82,729.59 L3029.49,729.93 L3032.21,730.18 L3034.95,730.32 L3037.7,730.36 L3040.45,730.29 L3043.2,730.13 L3045.92,729.85 L3048.61,729.48 L3051.25,729 L3053.84,728.43 L3056.36,727.76 L3058.8,727 L3061.15,726.15 L3063.4,725.21 L3065.54,724.19 L3067.57,723.1 L3343.75,563.64 L3345.65,562.47 L3347.42,561.23 L3349.04,559.93 L3350.52,558.57 L3351.84,557.17 L3353,555.71 L3353.99,554.22 L3354.81,552.69 L3355.46,551.14 L3355.93,549.57 L3356.22,547.98 L3356.34,546.39 L3356.27,544.81 L3356.02,543.22 L3355.6,541.66 L3355,540.11 L3354.22,538.59 L3353.27,537.11 L3352.15,535.67 L3350.88,534.27 L3349.44,532.93 L3347.86,531.64 L3346.13,530.42 L3344.26,529.27 L3311.79,510.52" stroke="#fff" stroke-width="17.9" fill="none" stroke-linecap="round" stroke-linejoin="round"/>
<path d="M2975.57,667.21 L3008.04,685.96 L3010.03,687.03 L3012.15,688.03 L3014.37,688.95 L3016.7,689.78 L3019.12,690.51 L3021.62,691.16 L3024.19,691.71 L3026.82,692.16 L3029.49,692.5 L3032.21,692.75 L3034.95,692.89 L3037.7,692.93 L3040.45,692.86 L3043.2,692.7 L3045.92,692.42 L3048.61,692.05 L3051.25,691.57 L3053.84,691 L3056.36,690.33 L3058.8,689.57 L3061.15,688.72 L3063.4,687.78 L3065.54,686.76 L3067.57,685.67 L3343.75,526.21 L3345.65,525.04 L3347.42,523.8 L3349.04,522.5 L3350.52,521.14 L3351.84,519.74 L3353,518.28 L3353.99,516.79 L3354.81,515.26 L3355.46,513.71 L3355.93,512.14 L3356.22,510.55 L3356.34,508.96 L3356.27,507.38 L3356.02,505.79 L3355.6,504.23 L3355,502.68 L3354.22,501.16 L3353.27,499.68 L3352.15,498.24 L3350.88,496.84 L3349.44,495.5 L3347.86,494.21 L3346.13,492.99 L3344.26,491.84 L3311.79,473.1" stroke="#000" stroke-width="23.6" fill="none" stroke-linecap="round" stroke-linejoin="round"/>
<path d="M2975.57,667.21 L3008.04,685.96 L3010.03,687.03 L3012.15,688.03 L3014.37,688.95 L3016.7,689.78 L3019.12,690.51 L3021.62,691.16 L3024.19,691.71 L3026.82,692.16 L3029.49,692.5 L3032.21,692.75 L3034.95,692.89 L3037.7,692.93 L3040.45,692.86 L3043.2,692.7 L3045.92,692.42 L3048.61,692.05 L3051.25,691.57 L3053.84,691 L3056.36,690.33 L3058.8,689.57 L3061.15,688.72 L3063.4,687.78 L3065.54,686.76 L3067.57,685.67 L3343.75,526.21 L3345.65,525.04 L3347.42,523.8 L3349.04,522.5 L3350.52,521.14 L3351.84,519.74 L3353,518.28 L3353.99,516.79 L3354.81,515.26 L3355.46,513.71 L3355.93,512.14 L3356.22,510.55 L3356.34,508.96 L3356.27,507.38 L3356.02,505.79 L3355.6,504.23 L3355,502.68 L3354.22,501.16 L3353.27,499.68 L3352.15,498.24 L3350.88,496.84 L3349.44,495.5 L3347.86,494.21 L3346.13,492.99 L3344.26,491.84 L3311.79,473.1" stroke="#fff" stroke-width="17.9" fill="none" stroke-linecap="round" stroke-linejoin="round"/>
<path d="M2975.57,629.78 L3008.04,648.53 L3010.03,649.6 L3012.15,650.6 L3014.37,651.52 L3016.7,652.35 L3019.12,653.09 L3021.62,653.73 L3024.19,654.28 L3026.82,654.73 L3029.49,655.07 L3032.21,655.32 L3034.95,655.46 L3037.7,655.5 L3040.45,655.43 L3043.2,655.27 L3045.92,654.99 L3048.61,654.62 L3051.25,654.14 L3053.84,653.57 L3056.36,652.9 L3058.8,652.14 L3061.15,651.29 L3063.4,650.35 L3065.54,649.33 L3067.57,648.24 L3343.75,488.78 L3345.65,487.61 L3347.42,486.37 L3349.04,485.07 L3350.52,483.71 L3351.84,482.31 L3353,480.85 L3353.99,479.36 L3354.81,477.83 L3355.46,476.28 L3355.93,474.71 L3356.22,473.12 L3356.34,471.53 L3356.27,469.95 L3356.02,468.36 L3355.6,466.8 L3355,465.25 L3354.22,463.73 L3353.27,462.25 L3352.15,460.81 L3350.88,459.41 L3349.44,458.07 L3347.86,456.78 L3346.13,455.56 L3344.26,454.41 L3311.79,435.67" stroke="#000" stroke-width="23.6" fill="none" stroke-linecap="round" stroke-linejoin="round"/>
<path d="M2975.57,629.78 L3008.04,648.53 L3010.03,649.6 L3012.15,650.6 L3014.37,651.52 L3016.7,652.35 L3019.12,653.09 L3021.62,653.73 L3024.19,654.28 L3026.82,654.73 L3029.49,655.07 L3032.21,655.32 L3034.95,655.46 L3037.7,655.5 L3040.45,655.43 L3043.2,655.27 L3045.92,654.99 L3048.61,654.62 L3051.25,654.14 L3053.84,653.57 L3056.36,652.9 L3058.8,652.14 L3061.15,651.29 L3063.4,650.35 L3065.54,649.33 L3067.57,648.24 L3343.75,488.78 L3345.65,487.61 L3347.42,486.37 L3349.04,485.07 L3350.52,483.71 L3351.84,482.31 L3353,480.85 L3353.99,479.36 L3354.81,477.83 L3355.46,476.28 L3355.93,474.71 L3356.22,473.12 L3356.34,471.53 L3356.27,469.95 L3356.02,468.36 L3355.6,466.8 L3355,465.25 L3354.22,463.73 L3353.27,462.25 L3352.15,460.81 L3350.88,459.41 L3349.44,458.07 L3347.86,456.78 L3346.13,455.56 L3344.26,454.41 L3311.79,435.67" stroke="#fff" stroke-width="17.9" fill="none" stroke-linecap="round" stroke-linejoin="round"/>
<path d="M2975.57,592.35 L3008.04,611.1 L3010.03,612.17 L3012.15,613.17 L3014.37,614.09 L3016.7,614.92 L3019.12,615.66 L3021.62,616.3 L3024.19,616.85 L3026.82,617.3 L3029.49,617.64 L3032.21,617.89 L3034.95,618.03 L3037.7,618.07 L3040.45,618 L3043.2,617.84 L3045.92,617.56 L3048.61,617.19 L3051.25,616.71 L3053.84,616.14 L3056.36,615.47 L3058.8,614.71 L3061.15,613.86 L3063.4,612.92 L3065.54,611.9 L3067.57,610.81 L3343.75,451.35 L3345.65,450.18 L3347.42,448.94 L3349.04,447.64 L3350.52,446.28 L3351.84,444.88 L3353,443.42 L3353.99,441.93 L3354.81,440.4 L3355.46,438.85 L3355.93,437.28 L3356.22,435.69 L3356.34,434.1 L3356.27,432.52 L3356.02,430.93 L3355.6,429.37 L3355,427.82 L3354.22,426.3 L3353.27,424.82 L3352.15,423.38 L3350.88,421.98 L3349.44,420.64 L3347.86,419.35 L3346.13,418.13 L3344.26,416.98 L3311.79,398.24" stroke="#000" stroke-width="23.6" fill="none" stroke-linecap="round" stroke-linejoin="round"/>
<path d="M2975.57,592.35 L3008.04,611.1 L3010.03,612.17 L3012.15,613.17 L3014.37,614.09 L3016.7,614.92 L3019.12,615.66 L3021.62,616.3 L3024.19,616.85 L3026.82,617.3 L3029.49,617.64 L3032.21,617.89 L3034.95,618.03 L3037.7,618.07 L3040.45,618 L3043.2,617.84 L3045.92,617.56 L3048.61,617.19 L3051.25,616.71 L3053.84,616.14 L3056.36,615.47 L3058.8,614.71 L3061.15,613.86 L3063.4,612.92 L3065.54,611.9 L3067.57,610.81 L3343.75,451.35 L3345.65,450.18 L3347.42,448.94 L3349.04,447.64 L3350.52,446.28 L3351.84,444.88 L3353,443.42 L3353.99,441.93 L3354.81,440.4 L3355.46,438.85 L3355.93,437.28 L3356.22,435.69 L3356.34,434.1 L3356.27,432.52 L3356.02,430.93 L3355.6,429.37 L3355,427.82 L3354.22,426.3 L3353.27,424.82 L3352.15,423.38 L3350.88,421.98 L3349.44,420.64 L3347.86,419.35 L3346.13,418.13 L3344.26,416.98 L3311.79,398.24" stroke="#fff" stroke-width="17.9" fill="none" stroke-linecap="round" stroke-linejoin="round"/>
<path d="M2975.57,554.92 L3008.04,573.67 L3010.03,574.74 L3012.15,575.74 L3014.37,576.66 L3016.7,577.49 L3019.12,578.23 L3021.62,578.87 L3024.19,579.42 L3026.82,579.87 L3029.49,580.21 L3032.21,580.46 L3034.95,580.6 L3037.7,580.64 L3040.45,580.57 L3043.2,580.41 L3045.92,580.13 L3048.61,579.76 L3051.25,579.28 L3053.84,578.71 L3056.36,578.04 L3058.8,577.28 L3061.15,576.43 L3063.4,575.49 L3065.54,574.47 L3067.57,573.38 L3343.75,413.92 L3345.65,412.75 L3347.42,411.51 L3349.04,410.21 L3350.52,408.85 L3351.84,407.45 L3353,405.99 L3353.99,404.5 L3354.81,402.97 L3355.46,401.42 L3355.93,399.85 L3356.22,398.26 L3356.34,396.67 L3356.27,395.09 L3356.02,393.5 L3355.6,391.94 L3355,390.39 L3354.22,388.87 L3353.27,387.39 L3352.15,385.95 L3350.88,384.55 L3349.44,383.21 L3347.86,381.92 L3346.13,380.7 L3344.26,379.55 L3311.79,360.81" stroke="#000" stroke-width="23.6" fill="none" stroke-linecap="round" stroke-linejoin="round"/>
<path d="M2975.57,554.92 L3008.04,573.67 L3010.03,574.74 L3012.15,575.74 L3014.37,576.66 L3016.7,577.49 L3019.12,578.23 L3021.62,578.87 L3024.19,579.42 L3026.82,579.87 L3029.49,580.21 L3032.21,580.46 L3034.95,580.6 L3037.7,580.64 L3040.45,580.57 L3043.2,580.41 L3045.92,580.13 L3048.61,579.76 L3051.25,579.28 L3053.84,578.71 L3056.36,578.04 L3058.8,577.28 L3061.15,576.43 L3063.4,575.49 L3065.54,574.47 L3067.57,573.38 L3343.75,413.92 L3345.65,412.75 L3347.42,411.51 L3349.04,410.21 L3350.52,408.85 L3351.84,407.45 L3353,405.99 L3353.99,404.5 L3354.81,402.97 L3355.46,401.42 L3355.93,399.85 L3356.22,398.26 L3356.34,396.67 L3356.27,395.09 L3356.02,393.5 L3355.6,391.94 L3355,390.39 L3354.22,388.87 L3353.27,387.39 L3352.15,385.95 L3350.88,384.55 L3349.44,383.21 L3347.86,381.92 L3346.13,380.7 L3344.26,379.55 L3311.79,360.81" stroke="#fff" stroke-width="17.9" fill="none" stroke-linecap="round" stroke-linejoin="round"/>
</g>
<g id="main">
<rect x="58.9" y="58" width="3390.7" height="2363.2" rx="0" stroke="#000" stroke-width="3" fill="none"/>
<rect x="280.1" y="418.5" width="42.4" height="1489.2" rx="0" stroke="#000" stroke-width="2.7" fill="none"/>
<rect x="769.1" y="418.5" width="42.4" height="1489.2" rx="0" stroke="#000" stroke-width="2.7" fill="none"/>
<line x1="279.1" y1="418.7" x2="323.5" y2="418.7" stroke="#000" stroke-width="4.0" stroke-linecap="butt"/>
<line x1="768.1" y1="418.7" x2="812.5" y2="418.7" stroke="#000" stroke-width="4.0" stroke-linecap="butt"/>
<line x1="279.1" y1="1907.7" x2="323.5" y2="1907.7" stroke="#000" stroke-width="4.0" stroke-linecap="butt"/>
<line x1="768.1" y1="1907.7" x2="812.5" y2="1907.7" stroke="#000" stroke-width="4.0" stroke-linecap="butt"/>
<line x1="322.5" y1="443" x2="769.1" y2="443" stroke="#000" stroke-width="2.7" stroke-linecap="butt"/>
<line x1="322.5" y1="466.6" x2="769.1" y2="466.6" stroke="#000" stroke-width="2.7" stroke-linecap="butt"/>
<line x1="322.5" y1="488.72" x2="769.1" y2="488.72" stroke="#000" stroke-width="2.7" stroke-linecap="butt"/>
<line x1="322.5" y1="512.32" x2="769.1" y2="512.32" stroke="#000" stroke-width="2.7" stroke-linecap="butt"/>
<line x1="322.5" y1="534.44" x2="769.1" y2="534.44" stroke="#000" stroke-width="2.7" stroke-linecap="butt"/>
<line x1="322.5" y1="558.04" x2="769.1" y2="558.04" stroke="#000" stroke-width="2.7" stroke-linecap="butt"/>
<line x1="322.5" y1="580.16" x2="769.1" y2="580.16" stroke="#000" stroke-width="2.7" stroke-linecap="butt"/>
<line x1="322.5" y1="603.76" x2="769.1" y2="603.76" stroke="#000" stroke-width="2.7" stroke-linecap="butt"/>
<line x1="322.5" y1="625.88" x2="769.1" y2="625.88" stroke="#000" stroke-width="2.7" stroke-linecap="butt"/>
<line x1="322.5" y1="649.48" x2="769.1" y2="649.48" stroke="#000" stroke-width="2.7" stroke-linecap="butt"/>
<line x1="322.5" y1="671.6" x2="769.1" y2="671.6" stroke="#000" stroke-width="2.7" stroke-linecap="butt"/>
<line x1="322.5" y1="695.2" x2="769.1" y2="695.2" stroke="#000" stroke-width="2.7" stroke-linecap="butt"/>
<line x1="322.5" y1="717.32" x2="769.1" y2="717.32" stroke="#000" stroke-width="2.7" stroke-linecap="butt"/>
<line x1="322.5" y1="740.92" x2="769.1" y2="740.92" stroke="#000" stroke-width="2.7" stroke-linecap="butt"/>
<line x1="322.5" y1="824" x2="769.1" y2="824" stroke="#000" stroke-width="2.7" stroke-linecap="butt"/>
<line x1="322.5" y1="847.6" x2="769.1" y2="847.6" stroke="#000" stroke-width="2.7" stroke-linecap="butt"/>
<line x1="322.5" y1="869.72" x2="769.1" y2="869.72" stroke="#000" stroke-width="2.7" stroke-linecap="butt"/>
<line x1="322.5" y1="893.32" x2="769.1" y2="893.32" stroke="#000" stroke-width="2.7" stroke-linecap="butt"/>
<line x1="322.5" y1="915.44" x2="769.1" y2="915.44" stroke="#000" stroke-width="2.7" stroke-linecap="butt"/>
<line x1="322.5" y1="939.04" x2="769.1" y2="939.04" stroke="#000" stroke-width="2.7" stroke-linecap="butt"/>
<line x1="322.5" y1="961.16" x2="769.1" y2="961.16" stroke="#000" stroke-width="2.7" stroke-linecap="butt"/>
<line x1="322.5" y1="984.76" x2="769.1" y2="984.76" stroke="#000" stroke-width="2.7" stroke-linecap="butt"/>
<line x1="322.5" y1="1006.88" x2="769.1" y2="1006.88" stroke="#000" stroke-width="2.7" stroke-linecap="butt"/>
<line x1="322.5" y1="1030.48" x2="769.1" y2="1030.48" stroke="#000" stroke-width="2.7" stroke-linecap="butt"/>
<line x1="322.5" y1="1052.6" x2="769.1" y2="1052.6" stroke="#000" stroke-width="2.7" stroke-linecap="butt"/>
<line x1="322.5" y1="1076.2" x2="769.1" y2="1076.2" stroke="#000" stroke-width="2.7" stroke-linecap="butt"/>
<line x1="322.5" y1="1098.32" x2="769.1" y2="1098.32" stroke="#000" stroke-width="2.7" stroke-linecap="butt"/>
<line x1="322.5" y1="1121.92" x2="769.1" y2="1121.92" stroke="#000" stroke-width="2.7" stroke-linecap="butt"/>
<line x1="322.5" y1="1204.5" x2="769.1" y2="1204.5" stroke="#000" stroke-width="2.7" stroke-linecap="butt"/>
<line x1="322.5" y1="1228.1" x2="769.1" y2="1228.1" stroke="#000" stroke-width="2.7" stroke-linecap="butt"/>
<line x1="322.5" y1="1250.22" x2="769.1" y2="1250.22" stroke="#000" stroke-width="2.7" stroke-linecap="butt"/>
<line x1="322.5" y1="1273.82" x2="769.1" y2="1273.82" stroke="#000" stroke-width="2.7" stroke-linecap="butt"/>
<line x1="322.5" y1="1295.94" x2="769.1" y2="1295.94" stroke="#000" stroke-width="2.7" stroke-linecap="butt"/>
<line x1="322.5" y1="1319.54" x2="769.1" y2="1319.54" stroke="#000" stroke-width="2.7" stroke-linecap="butt"/>
<line x1="322.5" y1="1341.66" x2="769.1" y2="1341.66" stroke="#000" stroke-width="2.7" stroke-linecap="butt"/>
<line x1="322.5" y1="1365.26" x2="769.1" y2="1365.26" stroke="#000" stroke-width="2.7" stroke-linecap="butt"/>
<line x1="322.5" y1="1387.38" x2="769.1" y2="1387.38" stroke="#000" stroke-width="2.7" stroke-linecap="butt"/>
<line x1="322.5" y1="1410.98" x2="769.1" y2="1410.98" stroke="#000" stroke-width="2.7" stroke-linecap="butt"/>
<line x1="322.5" y1="1433.1" x2="769.1" y2="1433.1" stroke="#000" stroke-width="2.7" stroke-linecap="butt"/>
<line x1="322.5" y1="1456.7" x2="769.1" y2="1456.7" stroke="#000" stroke-width="2.7" stroke-linecap="butt"/>
<line x1="322.5" y1="1478.82" x2="769.1" y2="1478.82" stroke="#000" stroke-width="2.7" stroke-linecap="butt"/>
<line x1="322.5" y1="1502.42" x2="769.1" y2="1502.42" stroke="#000" stroke-width="2.7" stroke-linecap="butt"/>
<line x1="322.5" y1="1584.8" x2="769.1" y2="1584.8" stroke="#000" stroke-width="2.7" stroke-linecap="butt"/>
<line x1="322.5" y1="1608.4" x2="769.1" y2="1608.4" stroke="#000" stroke-width="2.7" stroke-linecap="butt"/>
<line x1="322.5" y1="1630.52" x2="769.1" y2="1630.52" stroke="#000" stroke-width="2.7" stroke-linecap="butt"/>
<line x1="322.5" y1="1654.12" x2="769.1" y2="1654.12" stroke="#000" stroke-width="2.7" stroke-linecap="butt"/>
<line x1="322.5" y1="1676.24" x2="769.1" y2="1676.24" stroke="#000" stroke-width="2.7" stroke-linecap="butt"/>
<line x1="322.5" y1="1699.84" x2="769.1" y2="1699.84" stroke="#000" stroke-width="2.7" stroke-linecap="butt"/>
<line x1="322.5" y1="1721.96" x2="769.1" y2="1721.96" stroke="#000" stroke-width="2.7" stroke-linecap="butt"/>
<line x1="322.5" y1="1745.56" x2="769.1" y2="1745.56" stroke="#000" stroke-width="2.7" stroke-linecap="butt"/>
<line x1="322.5" y1="1767.68" x2="769.1" y2="1767.68" stroke="#000" stroke-width="2.7" stroke-linecap="butt"/>
<line x1="322.5" y1="1791.28" x2="769.1" y2="1791.28" stroke="#000" stroke-width="2.7" stroke-linecap="butt"/>
<line x1="322.5" y1="1813.4" x2="769.1" y2="1813.4" stroke="#000" stroke-width="2.7" stroke-linecap="butt"/>
<line x1="322.5" y1="1837" x2="769.1" y2="1837" stroke="#000" stroke-width="2.7" stroke-linecap="butt"/>
<line x1="322.5" y1="1859.12" x2="769.1" y2="1859.12" stroke="#000" stroke-width="2.7" stroke-linecap="butt"/>
<line x1="322.5" y1="1882.72" x2="769.1" y2="1882.72" stroke="#000" stroke-width="2.7" stroke-linecap="butt"/>
<circle cx="303.2" cy="460.4" r="15.25" stroke="#000" stroke-width="6.1" fill="#fff"/>
<ellipse cx="303.2" cy="461" rx="3.5" ry="7.45" stroke="#000" stroke-width="2.6" fill="none"/>
<circle cx="788" cy="460.4" r="15.25" stroke="#000" stroke-width="6.1" fill="#fff"/>
<ellipse cx="788" cy="461" rx="3.5" ry="7.45" stroke="#000" stroke-width="2.6" fill="none"/>
<circle cx="303.2" cy="1866" r="15.25" stroke="#000" stroke-width="6.1" fill="#fff"/>
<ellipse cx="303.2" cy="1866.6" rx="3.5" ry="7.45" stroke="#000" stroke-width="2.6" fill="none"/>
<circle cx="788.2" cy="1866" r="15.25" stroke="#000" stroke-width="6.1" fill="#fff"/>
<ellipse cx="788.2" cy="1866.6" rx="3.5" ry="7.45" stroke="#000" stroke-width="2.6" fill="none"/>
<rect x="283.9" y="1907.7" width="44" height="113.2" rx="0" stroke="#000" stroke-width="2.7" fill="none"/>
<line x1="283.9" y1="1927.7" x2="327.9" y2="1927.7" stroke="#000" stroke-width="2.7" stroke-linecap="butt"/>
<rect x="295.1" y="1927.7" width="22.7" height="53.5" rx="0" stroke="#000" stroke-width="2.7" fill="none"/>
<line x1="303.2" y1="292.7" x2="303.2" y2="456.6" stroke="#0000f8" stroke-width="1.6" stroke-linecap="butt"/>
<line x1="788" y1="292.7" x2="788" y2="456.6" stroke="#0000f8" stroke-width="1.6" stroke-linecap="butt"/>
<line x1="303.2" y1="314.6" x2="788" y2="314.6" stroke="#0000f8" stroke-width="1.6" stroke-linecap="butt"/>
<path d="M303.2,314.6 L345.2,307.1 L345.2,322.1 Z" fill="#0000f8" stroke="none"/>
<path d="M788,314.6 L746,322.1 L746,307.1 Z" fill="#0000f8" stroke="none"/>
<path transform="translate(522.6,303.8) scale(1.0)" d="M-0.3,-41.5 L-9.3,-11.2 L10.7,-11.2 M3.4,-21.8 L3.4,0" stroke="#0000f8" stroke-width="3.3" fill="none" stroke-linecap="butt" stroke-linejoin="round"/>
<path transform="translate(545.8,303.8) scale(1.0)" d="M8.7,-40.2 L-6.8,-40.2 L-6.8,-22.3 L-0.7,-22.3 A8.6,10.3 0 0 1 -0.7,-1.75 L-9.1,-1.75" stroke="#0000f8" stroke-width="3.3" fill="none" stroke-linecap="butt" stroke-linejoin="round"/>
<path transform="translate(569.9,303.8) scale(1.0)" d="M3.8,-40.2 C-4,-37 -8.6,-30 -8.6,-13 M-8.6,-11.6 A8.5,9.85 0 1 0 8.4,-11.6 A8.5,9.85 0 1 0 -8.6,-11.6" stroke="#0000f8" stroke-width="3.3" fill="none" stroke-linecap="butt" stroke-linejoin="round"/>
<line x1="788" y1="460.4" x2="957.6" y2="460.4" stroke="#0000f8" stroke-width="1.6" stroke-linecap="butt"/>
<line x1="788.2" y1="1866" x2="957.6" y2="1866" stroke="#0000f8" stroke-width="1.6" stroke-linecap="butt"/>
<line x1="795.6" y1="1907.7" x2="957.6" y2="1907.7" stroke="#0000f8" stroke-width="1.6" stroke-linecap="butt"/>
<line x1="936.8" y1="460.4" x2="936.8" y2="1991.4" stroke="#0000f8" stroke-width="1.6" stroke-linecap="butt"/>
<path d="M936.8,460.4 L944.3,502.4 L929.3,502.4 Z" fill="#0000f8" stroke="none"/>
<path d="M936.8,1866 L929.3,1824 L944.3,1824 Z" fill="#0000f8" stroke="none"/>
<path d="M936.8,1907.7 L944.3,1949.7 L929.3,1949.7 Z" fill="#0000f8" stroke="none"/>
<g transform="translate(927,0) rotate(-90)">
<path transform="translate(-1203.6,0) scale(1.0)" d="M-4.2,-31.3 L5.5,-40.6 L5.5,0" stroke="#0000f8" stroke-width="3.3" fill="none" stroke-linecap="butt" stroke-linejoin="round"/>
<path transform="translate(-1180.9,0) scale(1.0)" d="M-9.1,-40.2 L0,-40.2 A7,8.5 0 0 1 0,-23.2 L-6.1,-23.2 M0,-23.2 A8.4,10.75 0 0 1 0,-1.7 L-9.1,-1.7" stroke="#0000f8" stroke-width="3.3" fill="none" stroke-linecap="butt" stroke-linejoin="round"/>
<path transform="translate(-1156.5,0) scale(1.0)" d="M-9.4,-32.6 C-8,-38 -4,-40.2 0.3,-40.2 C5.5,-40.2 9.2,-37 9.2,-32 C9.2,-29.5 8.4,-27.8 7.4,-26.3 L-9.1,-1.65 L10.8,-1.65" stroke="#0000f8" stroke-width="3.3" fill="none" stroke-linecap="butt" stroke-linejoin="round"/>
<path transform="translate(-1130.7,0) scale(1.0)" d="M-9.4,-32.6 C-8,-38 -4,-40.2 0.3,-40.2 C5.5,-40.2 9.2,-37 9.2,-32 C9.2,-29.5 8.4,-27.8 7.4,-26.3 L-9.1,-1.65 L10.8,-1.65" stroke="#0000f8" stroke-width="3.3" fill="none" stroke-linecap="butt" stroke-linejoin="round"/>
</g>
<g transform="translate(927,0) rotate(-90)">
<path transform="translate(-1900.2,0) scale(1.0)" d="M-0.3,-41.5 L-9.3,-11.2 L10.7,-11.2 M3.4,-21.8 L3.4,0" stroke="#0000f8" stroke-width="3.3" fill="none" stroke-linecap="butt" stroke-linejoin="round"/>
<path transform="translate(-1874.5,0) scale(1.0)" d="M-8.3,-29.5 L-8.3,-12.3 A8.3,10.5 0 0 0 8.3,-12.3 L8.3,-29.5 A8.3,10.5 0 0 0 -8.3,-29.5 Z" stroke="#0000f8" stroke-width="3.3" fill="none" stroke-linecap="butt" stroke-linejoin="round"/>
</g>
<path d="M1257.3,443 L1168,443 A11.8,11.8 0 0 0 1168,466.6 L1257.3,466.6" stroke="#000" stroke-width="2.7" fill="#fff" />
<path d="M1257.3,488.72 L1168,488.72 A11.8,11.8 0 0 0 1168,512.32 L1257.3,512.32" stroke="#000" stroke-width="2.7" fill="#fff" />
<path d="M1257.3,534.44 L1168,534.44 A11.8,11.8 0 0 0 1168,558.04 L1257.3,558.04" stroke="#000" stroke-width="2.7" fill="#fff" />
<path d="M1257.3,580.16 L1168,580.16 A11.8,11.8 0 0 0 1168,603.76 L1257.3,603.76" stroke="#000" stroke-width="2.7" fill="#fff" />
<path d="M1257.3,625.88 L1168,625.88 A11.8,11.8 0 0 0 1168,649.48 L1257.3,649.48" stroke="#000" stroke-width="2.7" fill="#fff" />
<path d="M1257.3,671.6 L1168,671.6 A11.8,11.8 0 0 0 1168,695.2 L1257.3,695.2" stroke="#000" stroke-width="2.7" fill="#fff" />
<path d="M1257.3,717.32 L1168,717.32 A11.8,11.8 0 0 0 1168,740.92 L1257.3,740.92" stroke="#000" stroke-width="2.7" fill="#fff" />
<path d="M1257.3,824 L1168,824 A11.8,11.8 0 0 0 1168,847.6 L1257.3,847.6" stroke="#000" stroke-width="2.7" fill="#fff" />
<path d="M1257.3,869.72 L1168,869.72 A11.8,11.8 0 0 0 1168,893.32 L1257.3,893.32" stroke="#000" stroke-width="2.7" fill="#fff" />
<path d="M1257.3,915.44 L1168,915.44 A11.8,11.8 0 0 0 1168,939.04 L1257.3,939.04" stroke="#000" stroke-width="2.7" fill="#fff" />
<path d="M1257.3,961.16 L1168,961.16 A11.8,11.8 0 0 0 1168,984.76 L1257.3,984.76" stroke="#000" stroke-width="2.7" fill="#fff" />
<path d="M1257.3,1006.88 L1168,1006.88 A11.8,11.8 0 0 0 1168,1030.48 L1257.3,1030.48" stroke="#000" stroke-width="2.7" fill="#fff" />
<path d="M1257.3,1052.6 L1168,1052.6 A11.8,11.8 0 0 0 1168,1076.2 L1257.3,1076.2" stroke="#000" stroke-width="2.7" fill="#fff" />
<path d="M1257.3,1098.32 L1168,1098.32 A11.8,11.8 0 0 0 1168,1121.92 L1257.3,1121.92" stroke="#000" stroke-width="2.7" fill="#fff" />
<path d="M1257.3,1204.5 L1168,1204.5 A11.8,11.8 0 0 0 1168,1228.1 L1257.3,1228.1" stroke="#000" stroke-width="2.7" fill="#fff" />
<path d="M1257.3,1250.22 L1168,1250.22 A11.8,11.8 0 0 0 1168,1273.82 L1257.3,1273.82" stroke="#000" stroke-width="2.7" fill="#fff" />
<path d="M1257.3,1295.94 L1168,1295.94 A11.8,11.8 0 0 0 1168,1319.54 L1257.3,1319.54" stroke="#000" stroke-width="2.7" fill="#fff" />
<path d="M1257.3,1341.66 L1168,1341.66 A11.8,11.8 0 0 0 1168,1365.26 L1257.3,1365.26" stroke="#000" stroke-width="2.7" fill="#fff" />
<path d="M1257.3,1387.38 L1168,1387.38 A11.8,11.8 0 0 0 1168,1410.98 L1257.3,1410.98" stroke="#000" stroke-width="2.7" fill="#fff" />
<path d="M1257.3,1433.1 L1168,1433.1 A11.8,11.8 0 0 0 1168,1456.7 L1257.3,1456.7" stroke="#000" stroke-width="2.7" fill="#fff" />
<path d="M1257.3,1478.82 L1168,1478.82 A11.8,11.8 0 0 0 1168,1502.42 L1257.3,1502.42" stroke="#000" stroke-width="2.7" fill="#fff" />
<path d="M1257.3,1584.8 L1168,1584.8 A11.8,11.8 0 0 0 1168,1608.4 L1257.3,1608.4" stroke="#000" stroke-width="2.7" fill="#fff" />
<path d="M1257.3,1630.52 L1168,1630.52 A11.8,11.8 0 0 0 1168,1654.12 L1257.3,1654.12" stroke="#000" stroke-width="2.7" fill="#fff" />
<path d="M1257.3,1676.24 L1168,1676.24 A11.8,11.8 0 0 0 1168,1699.84 L1257.3,1699.84" stroke="#000" stroke-width="2.7" fill="#fff" />
<path d="M1257.3,1721.96 L1168,1721.96 A11.8,11.8 0 0 0 1168,1745.56 L1257.3,1745.56" stroke="#000" stroke-width="2.7" fill="#fff" />
<path d="M1257.3,1767.68 L1168,1767.68 A11.8,11.8 0 0 0 1168,1791.28 L1257.3,1791.28" stroke="#000" stroke-width="2.7" fill="#fff" />
<path d="M1257.3,1813.4 L1168,1813.4 A11.8,11.8 0 0 0 1168,1837 L1257.3,1837" stroke="#000" stroke-width="2.7" fill="#fff" />
<path d="M1257.3,1859.12 L1168,1859.12 A11.8,11.8 0 0 0 1168,1882.72 L1257.3,1882.72" stroke="#000" stroke-width="2.7" fill="#fff" />
<rect x="1257.3" y="418" width="32.2" height="1488.5" rx="0" stroke="#000" stroke-width="2.7" fill="none"/>
<line x1="1256.3" y1="418.4" x2="1290.5" y2="418.4" stroke="#000" stroke-width="4.0" stroke-linecap="butt"/>
<rect x="1289.5" y="446.9" width="31.5" height="25.8" rx="0" stroke="#000" stroke-width="2.7" fill="none"/>
<path d="M1321,443.8 L1327.5,440.8 L1327.5,478.8 L1321,475.8 Z" stroke="#000" stroke-width="2.7" fill="none" stroke-linejoin="round"/>
<rect x="1289.5" y="1852.9" width="31.5" height="25.8" rx="0" stroke="#000" stroke-width="2.7" fill="none"/>
<path d="M1321,1849.8 L1327.5,1846.8 L1327.5,1884.8 L1321,1881.8 Z" stroke="#000" stroke-width="2.7" fill="none" stroke-linejoin="round"/>
<rect x="1252.3" y="1908" width="43.4" height="112.4" rx="0" stroke="#000" stroke-width="2.7" fill="none"/>
<line x1="1252.3" y1="1927.4" x2="1295.7" y2="1927.4" stroke="#000" stroke-width="2.7" stroke-linecap="butt"/>
<line x1="1273.6" y1="1908" x2="1273.6" y2="1927.4" stroke="#000" stroke-width="2.7" stroke-linecap="butt"/>
<rect x="1292" y="1927.4" width="24.4" height="53.6" rx="0" stroke="#000" stroke-width="2.7" fill="#fff"/>
<line x1="1156.8" y1="1781.6" x2="1156.8" y2="2171.3" stroke="#0000f8" stroke-width="1.6" stroke-linecap="butt"/>
<line x1="1326.5" y1="1884" x2="1326.5" y2="2171.3" stroke="#0000f8" stroke-width="1.6" stroke-linecap="butt"/>
<line x1="1156.8" y1="2150.4" x2="1599.2" y2="2150.4" stroke="#0000f8" stroke-width="1.6" stroke-linecap="butt"/>
<path d="M1156.8,2150.4 L1198.8,2142.9 L1198.8,2157.9 Z" fill="#0000f8" stroke="none"/>
<path d="M1326.5,2150.4 L1284.5,2157.9 L1284.5,2142.9 Z" fill="#0000f8" stroke="none"/>
<path transform="translate(1395.7,2140.8) scale(1.0)" d="M-4.2,-31.3 L5.5,-40.6 L5.5,0" stroke="#0000f8" stroke-width="3.3" fill="none" stroke-linecap="butt" stroke-linejoin="round"/>
<path transform="translate(1420.7,2140.8) scale(1.0)" d="M3.8,-40.2 C-4,-37 -8.6,-30 -8.6,-13 M-8.6,-11.6 A8.5,9.85 0 1 0 8.4,-11.6 A8.5,9.85 0 1 0 -8.6,-11.6" stroke="#0000f8" stroke-width="3.3" fill="none" stroke-linecap="butt" stroke-linejoin="round"/>
<path transform="translate(1446,2140.8) scale(1.0)" d="M-8.3,-29.5 L-8.3,-12.3 A8.3,10.5 0 0 0 8.3,-12.3 L8.3,-29.5 A8.3,10.5 0 0 0 -8.3,-29.5 Z" stroke="#0000f8" stroke-width="3.3" fill="none" stroke-linecap="butt" stroke-linejoin="round"/>
<path transform="translate(1488.2,2140.8) scale(1.0)" d="M-10,-14.2 L10,-14.2" stroke="#0000f8" stroke-width="3.3" fill="none" stroke-linecap="butt" stroke-linejoin="round"/>
<path transform="translate(1522.4,2140.8) scale(1.0)" d="M-4.2,-31.3 L5.5,-40.6 L5.5,0" stroke="#0000f8" stroke-width="3.3" fill="none" stroke-linecap="butt" stroke-linejoin="round"/>
<path transform="translate(1546.9,2140.8) scale(1.0)" d="M-9.1,-32.8 L-9.1,-40.1 L9.3,-40.1 L-1.6,0" stroke="#0000f8" stroke-width="3.3" fill="none" stroke-linecap="butt" stroke-linejoin="round"/>
<path transform="translate(1570.9,2140.8) scale(1.0)" d="M-8.3,-29.5 L-8.3,-12.3 A8.3,10.5 0 0 0 8.3,-12.3 L8.3,-29.5 A8.3,10.5 0 0 0 -8.3,-29.5 Z" stroke="#0000f8" stroke-width="3.3" fill="none" stroke-linecap="butt" stroke-linejoin="round"/>
<rect x="1732.3" y="418.3" width="43" height="1489.3" rx="0" stroke="#000" stroke-width="2.7" fill="none"/>
<rect x="2221.4" y="418.3" width="42.8" height="1489.3" rx="0" stroke="#000" stroke-width="2.7" fill="none"/>
<line x1="1731.3" y1="418.6" x2="1776.3" y2="418.6" stroke="#000" stroke-width="4.0" stroke-linecap="butt"/>
<line x1="2220.4" y1="418.6" x2="2265.2" y2="418.6" stroke="#000" stroke-width="4.0" stroke-linecap="butt"/>
<line x1="1731.3" y1="1907.6" x2="1776.3" y2="1907.6" stroke="#000" stroke-width="4.0" stroke-linecap="butt"/>
<line x1="2220.4" y1="1907.6" x2="2265.2" y2="1907.6" stroke="#000" stroke-width="4.0" stroke-linecap="butt"/>
<rect x="1749.7" y="443" width="497.8" height="23.6" rx="11.8" stroke="#000" stroke-width="2.7" fill="#fff"/>
<rect x="1749.7" y="488.72" width="497.8" height="23.6" rx="11.8" stroke="#000" stroke-width="2.7" fill="#fff"/>
<rect x="1749.7" y="534.44" width="497.8" height="23.6" rx="11.8" stroke="#000" stroke-width="2.7" fill="#fff"/>
<rect x="1749.7" y="580.16" width="497.8" height="23.6" rx="11.8" stroke="#000" stroke-width="2.7" fill="#fff"/>
<rect x="1749.7" y="625.88" width="497.8" height="23.6" rx="11.8" stroke="#000" stroke-width="2.7" fill="#fff"/>
<rect x="1749.7" y="671.6" width="497.8" height="23.6" rx="11.8" stroke="#000" stroke-width="2.7" fill="#fff"/>
<rect x="1749.7" y="717.32" width="497.8" height="23.6" rx="11.8" stroke="#000" stroke-width="2.7" fill="#fff"/>
<rect x="1749.7" y="824" width="497.8" height="23.6" rx="11.8" stroke="#000" stroke-width="2.7" fill="#fff"/>
<rect x="1749.7" y="869.72" width="497.8" height="23.6" rx="11.8" stroke="#000" stroke-width="2.7" fill="#fff"/>
<rect x="1749.7" y="915.44" width="497.8" height="23.6" rx="11.8" stroke="#000" stroke-width="2.7" fill="#fff"/>
<rect x="1749.7" y="961.16" width="497.8" height="23.6" rx="11.8" stroke="#000" stroke-width="2.7" fill="#fff"/>
<rect x="1749.7" y="1006.88" width="497.8" height="23.6" rx="11.8" stroke="#000" stroke-width="2.7" fill="#fff"/>
<rect x="1749.7" y="1052.6" width="497.8" height="23.6" rx="11.8" stroke="#000" stroke-width="2.7" fill="#fff"/>
<rect x="1749.7" y="1098.32" width="497.8" height="23.6" rx="11.8" stroke="#000" stroke-width="2.7" fill="#fff"/>
<rect x="1749.7" y="1204.5" width="497.8" height="23.6" rx="11.8" stroke="#000" stroke-width="2.7" fill="#fff"/>
<rect x="1749.7" y="1250.22" width="497.8" height="23.6" rx="11.8" stroke="#000" stroke-width="2.7" fill="#fff"/>
<rect x="1749.7" y="1295.94" width="497.8" height="23.6" rx="11.8" stroke="#000" stroke-width="2.7" fill="#fff"/>
<rect x="1749.7" y="1341.66" width="497.8" height="23.6" rx="11.8" stroke="#000" stroke-width="2.7" fill="#fff"/>
<rect x="1749.7" y="1387.38" width="497.8" height="23.6" rx="11.8" stroke="#000" stroke-width="2.7" fill="#fff"/>
<rect x="1749.7" y="1433.1" width="497.8" height="23.6" rx="11.8" stroke="#000" stroke-width="2.7" fill="#fff"/>
<rect x="1749.7" y="1478.82" width="497.8" height="23.6" rx="11.8" stroke="#000" stroke-width="2.7" fill="#fff"/>
<rect x="1749.7" y="1584.8" width="497.8" height="23.6" rx="11.8" stroke="#000" stroke-width="2.7" fill="#fff"/>
<rect x="1749.7" y="1630.52" width="497.8" height="23.6" rx="11.8" stroke="#000" stroke-width="2.7" fill="#fff"/>
<rect x="1749.7" y="1676.24" width="497.8" height="23.6" rx="11.8" stroke="#000" stroke-width="2.7" fill="#fff"/>
<rect x="1749.7" y="1721.96" width="497.8" height="23.6" rx="11.8" stroke="#000" stroke-width="2.7" fill="#fff"/>
<rect x="1749.7" y="1767.68" width="497.8" height="23.6" rx="11.8" stroke="#000" stroke-width="2.7" fill="#fff"/>
<rect x="1749.7" y="1813.4" width="497.8" height="23.6" rx="11.8" stroke="#000" stroke-width="2.7" fill="#fff"/>
<rect x="1749.7" y="1859.12" width="497.8" height="23.6" rx="11.8" stroke="#000" stroke-width="2.7" fill="#fff"/>
<rect x="2216" y="1908.2" width="43.2" height="113.3" rx="0" stroke="#000" stroke-width="2.7" fill="none"/>
<line x1="2216" y1="1928.4" x2="2259.2" y2="1928.4" stroke="#000" stroke-width="3" stroke-linecap="butt"/>
<path d="M1750.2,232.7 L1750.2,187 A55,55 0 0 1 1805.2,132.4 L2193.5,132.4 A53.2,53.2 0 0 1 2246.7,185.6 L2246.7,236" stroke="#000" stroke-width="2.7" fill="none" />
<path d="M1773.6,232.7 L1773.6,187 A31.4,31.4 0 0 1 1805,156.1 L2193.5,156.1 A29.9,29.9 0 0 1 2223.4,186 L2223.4,228" stroke="#000" stroke-width="2.7" fill="none" />
<line x1="1775.2" y1="237.4" x2="2218" y2="237.4" stroke="#000" stroke-width="2.7" stroke-linecap="butt"/>
<line x1="1775.2" y1="260.9" x2="2218" y2="260.9" stroke="#000" stroke-width="2.7" stroke-linecap="butt"/>
<path d="M1775.2,232.7 L1748,232.7 Q1732.5,234 1732.5,249 Q1732.5,264 1748,265 L1775.2,265 Z" stroke="#000" stroke-width="2.7" fill="#fff" />
<circle cx="1759.2" cy="249" r="10.3" stroke="#000" stroke-width="2.4" fill="none"/>
<rect x="1742.7" y="265" width="26.4" height="31.4" rx="0" stroke="#000" stroke-width="2.7" fill="none"/>
<path d="M1740,296.4 L1772.5,296.4 L1774.6,302.5 L1738,302.5 Z" stroke="#000" stroke-width="2.7" fill="none" stroke-linejoin="round"/>
<rect x="2227.4" y="262" width="27.1" height="35.1" rx="0" stroke="#000" stroke-width="2.7" fill="none"/>
<line x1="2248.4" y1="262" x2="2248.4" y2="291.7" stroke="#000" stroke-width="2.7" stroke-linecap="butt"/>
<line x1="2227.4" y1="291.7" x2="2248.4" y2="291.7" stroke="#000" stroke-width="2.7" stroke-linecap="butt"/>
<path d="M2224,297.1 L2258,297.1 L2260,303.2 L2222,303.2 Z" stroke="#000" stroke-width="2.7" fill="none" stroke-linejoin="round"/>
<circle cx="2249.1" cy="249" r="15.6" stroke="#000" stroke-width="2.4" fill="#fff"/>
<circle cx="2237.6" cy="249" r="21" stroke="#000" stroke-width="2.5" fill="#fff"/>
<path d="M1749.6,2254.6 L1749.6,2298 A56,56 0 0 0 1805.6,2354.4 L2190.7,2354.4 A56,56 0 0 0 2246.7,2298.4 L2246.7,2254.6" stroke="#000" stroke-width="2.7" fill="none" />
<path d="M1773.7,2254.6 L1773.7,2300 A31,31 0 0 0 1804.7,2330.9 L2192.4,2330.9 A31,31 0 0 0 2223.4,2299.9 L2223.4,2254.6" stroke="#000" stroke-width="2.7" fill="none" />
<line x1="1775.8" y1="2226.4" x2="2221.3" y2="2226.4" stroke="#000" stroke-width="2.7" stroke-linecap="butt"/>
<line x1="1775.8" y1="2249.1" x2="2221.3" y2="2249.1" stroke="#000" stroke-width="2.7" stroke-linecap="butt"/>
<path d="M1775.8,2221.7 L1748,2221.7 Q1732.7,2223 1732.7,2238 Q1732.7,2253 1748,2254.6 L1775.8,2254.6 Z" stroke="#000" stroke-width="2.7" fill="#fff" />
<circle cx="1759" cy="2237.6" r="10.8" stroke="#000" stroke-width="2.4" fill="none"/>
<path d="M2221.3,2221.7 L2249,2221.7 Q2264.4,2223 2264.4,2238 Q2264.4,2253 2249,2254.6 L2221.3,2254.6 Z" stroke="#000" stroke-width="2.7" fill="#fff" />
<circle cx="2237.8" cy="2237.6" r="10.8" stroke="#000" stroke-width="2.4" fill="none"/>
<circle cx="2237.8" cy="2234.5" r="3.2" stroke="#000" stroke-width="1.8" fill="none"/>
<path d="M2232,2244 Q2237.8,2238 2243.6,2244 Z" stroke="#000" stroke-width="1.8" fill="#000" />
<rect x="1741.8" y="2191.1" width="28.2" height="30.6" rx="0" stroke="#000" stroke-width="2.7" fill="none"/>
<path d="M1737.4,2184 L1775.8,2184 L1773.5,2191.1 L1739.8,2191.1 Z" stroke="#000" stroke-width="2.7" fill="none" stroke-linejoin="round"/>
<circle cx="1756.2" cy="2206" r="3" stroke="#000" stroke-width="0" fill="#000"/>
<rect x="2226.6" y="2191.1" width="28.7" height="30.6" rx="0" stroke="#000" stroke-width="2.7" fill="none"/>
<path d="M2221.3,2184 L2259.2,2184 L2257,2191.1 L2223.5,2191.1 Z" stroke="#000" stroke-width="2.7" fill="none" stroke-linejoin="round"/>
<circle cx="2241" cy="2206" r="3" stroke="#000" stroke-width="0" fill="#000"/>
<line x1="1732.7" y1="1910" x2="1732.7" y2="2171.5" stroke="#0000f8" stroke-width="1.6" stroke-linecap="butt"/>
<line x1="2264.4" y1="1910" x2="2264.4" y2="2171.5" stroke="#0000f8" stroke-width="1.6" stroke-linecap="butt"/>
<line x1="1732.7" y1="2150.6" x2="2264.4" y2="2150.6" stroke="#0000f8" stroke-width="1.6" stroke-linecap="butt"/>
<path d="M1732.7,2150.6 L1774.7,2143.1 L1774.7,2158.1 Z" fill="#0000f8" stroke="none"/>
<path d="M2264.4,2150.6 L2222.4,2158.1 L2222.4,2143.1 Z" fill="#0000f8" stroke="none"/>
<path transform="translate(1923.2,2140.8) scale(1.0)" d="M8.7,-40.2 L-6.8,-40.2 L-6.8,-22.3 L-0.7,-22.3 A8.6,10.3 0 0 1 -0.7,-1.75 L-9.1,-1.75" stroke="#0000f8" stroke-width="3.3" fill="none" stroke-linecap="butt" stroke-linejoin="round"/>
<path transform="translate(1948.7,2140.8) scale(1.0)" d="M-8.3,-29.5 L-8.3,-12.3 A8.3,10.5 0 0 0 8.3,-12.3 L8.3,-29.5 A8.3,10.5 0 0 0 -8.3,-29.5 Z" stroke="#0000f8" stroke-width="3.3" fill="none" stroke-linecap="butt" stroke-linejoin="round"/>
<path transform="translate(1975.1,2140.8) scale(1.0)" d="M-8.3,-29.5 L-8.3,-12.3 A8.3,10.5 0 0 0 8.3,-12.3 L8.3,-29.5 A8.3,10.5 0 0 0 -8.3,-29.5 Z" stroke="#0000f8" stroke-width="3.3" fill="none" stroke-linecap="butt" stroke-linejoin="round"/>
<path transform="translate(2028.8,2140.8) scale(1.0)" d="M0,-34.7 L0,-16.1 M-9.9,-25.3 L9.9,-25.3 M-9.9,-9.4 L9.9,-9.4" stroke="#0000f8" stroke-width="3.3" fill="none" stroke-linecap="butt" stroke-linejoin="round"/>
<path transform="translate(2072,2140.8) scale(1.0)" d="M-9.4,-32.6 C-8,-38 -4,-40.2 0.3,-40.2 C5.5,-40.2 9.2,-37 9.2,-32 C9.2,-29.5 8.4,-27.8 7.4,-26.3 L-9.1,-1.65 L10.8,-1.65" stroke="#0000f8" stroke-width="3.3" fill="none" stroke-linecap="butt" stroke-linejoin="round"/>
<line x1="2234.4" y1="418.1" x2="2548.5" y2="418.1" stroke="#0000f8" stroke-width="1.6" stroke-linecap="butt"/>
<line x1="2257.8" y1="1908.2" x2="2424.4" y2="1908.2" stroke="#0000f8" stroke-width="1.6" stroke-linecap="butt"/>
<line x1="2258.8" y1="2020.9" x2="2548.2" y2="2020.9" stroke="#0000f8" stroke-width="1.6" stroke-linecap="butt"/>
<line x1="2403.3" y1="418.1" x2="2403.3" y2="1908.2" stroke="#0000f8" stroke-width="1.6" stroke-linecap="butt"/>
<line x1="2527.3" y1="418.1" x2="2527.3" y2="2020.9" stroke="#0000f8" stroke-width="1.6" stroke-linecap="butt"/>
<path d="M2403.3,418.1 L2410.8,460.1 L2395.8,460.1 Z" fill="#0000f8" stroke="none"/>
<path d="M2403.3,1908.2 L2395.8,1866.2 L2410.8,1866.2 Z" fill="#0000f8" stroke="none"/>
<path d="M2527.3,418.1 L2534.8,460.1 L2519.8,460.1 Z" fill="#0000f8" stroke="none"/>
<path d="M2527.3,2020.9 L2519.8,1978.9 L2534.8,1978.9 Z" fill="#0000f8" stroke="none"/>
<g transform="translate(2392.8,0) rotate(-90)">
<path transform="translate(-1252.5,0) scale(1.0)" d="M-4.2,-31.3 L5.5,-40.6 L5.5,0" stroke="#0000f8" stroke-width="3.3" fill="none" stroke-linecap="butt" stroke-linejoin="round"/>
<path transform="translate(-1229,0) scale(1.0)" d="M-0.3,-41.5 L-9.3,-11.2 L10.7,-11.2 M3.4,-21.8 L3.4,0" stroke="#0000f8" stroke-width="3.3" fill="none" stroke-linecap="butt" stroke-linejoin="round"/>
<path transform="translate(-1204,0) scale(1.0)" d="M-8.3,-29.5 L-8.3,-12.3 A8.3,10.5 0 0 0 8.3,-12.3 L8.3,-29.5 A8.3,10.5 0 0 0 -8.3,-29.5 Z" stroke="#0000f8" stroke-width="3.3" fill="none" stroke-linecap="butt" stroke-linejoin="round"/>
<path transform="translate(-1178,0) scale(1.0)" d="M-9.4,-32.6 C-8,-38 -4,-40.2 0.3,-40.2 C5.5,-40.2 9.2,-37 9.2,-32 C9.2,-29.5 8.4,-27.8 7.4,-26.3 L-9.1,-1.65 L10.8,-1.65" stroke="#0000f8" stroke-width="3.3" fill="none" stroke-linecap="butt" stroke-linejoin="round"/>
<path transform="translate(-1123,0) scale(1.0)" d="M0,-34.7 L0,-16.1 M-9.9,-25.3 L9.9,-25.3 M-9.9,-9.4 L9.9,-9.4" stroke="#0000f8" stroke-width="3.3" fill="none" stroke-linecap="butt" stroke-linejoin="round"/>
<path transform="translate(-1080.7,0) scale(1.0)" d="M-9.4,-32.6 C-8,-38 -4,-40.2 0.3,-40.2 C5.5,-40.2 9.2,-37 9.2,-32 C9.2,-29.5 8.4,-27.8 7.4,-26.3 L-9.1,-1.65 L10.8,-1.65" stroke="#0000f8" stroke-width="3.3" fill="none" stroke-linecap="butt" stroke-linejoin="round"/>
</g>
<g transform="translate(2516.8,0) rotate(-90)">
<path transform="translate(-1308.1,0) scale(1.0)" d="M-4.2,-31.3 L5.5,-40.6 L5.5,0" stroke="#0000f8" stroke-width="3.3" fill="none" stroke-linecap="butt" stroke-linejoin="round"/>
<path transform="translate(-1284.2,0) scale(1.0)" d="M8.7,-40.2 L-6.8,-40.2 L-6.8,-22.3 L-0.7,-22.3 A8.6,10.3 0 0 1 -0.7,-1.75 L-9.1,-1.75" stroke="#0000f8" stroke-width="3.3" fill="none" stroke-linecap="butt" stroke-linejoin="round"/>
<path transform="translate(-1259.9,0) scale(1.0)" d="M-8.3,-29.5 L-8.3,-12.3 A8.3,10.5 0 0 0 8.3,-12.3 L8.3,-29.5 A8.3,10.5 0 0 0 -8.3,-29.5 Z" stroke="#0000f8" stroke-width="3.3" fill="none" stroke-linecap="butt" stroke-linejoin="round"/>
<path transform="translate(-1233.7,0) scale(1.0)" d="M-9.1,-32.8 L-9.1,-40.1 L9.3,-40.1 L-1.6,0" stroke="#0000f8" stroke-width="3.3" fill="none" stroke-linecap="butt" stroke-linejoin="round"/>
<path transform="translate(-1181.3,0) scale(1.0)" d="M0,-34.7 L0,-16.1 M-9.9,-25.3 L9.9,-25.3 M-9.9,-9.4 L9.9,-9.4" stroke="#0000f8" stroke-width="3.3" fill="none" stroke-linecap="butt" stroke-linejoin="round"/>
<path transform="translate(-1137.6,0) scale(1.0)" d="M-9.4,-32.6 C-8,-38 -4,-40.2 0.3,-40.2 C5.5,-40.2 9.2,-37 9.2,-32 C9.2,-29.5 8.4,-27.8 7.4,-26.3 L-9.1,-1.65 L10.8,-1.65" stroke="#0000f8" stroke-width="3.3" fill="none" stroke-linecap="butt" stroke-linejoin="round"/>
</g>
<path d="M1604,292.7 L1666.4,292.7 L1749.5,426.3" stroke="#0000f8" stroke-width="1.6" fill="none" stroke-linejoin="round"/>
<path d="M1770.5,459.7 L1740.86,426.33 L1753.59,418.39 Z" fill="#0000f8" stroke="none"/>
<path transform="translate(1514.8,313.3) scale(1.0)" d="M0,-40.7 A17.3,17.3 0 1 0 0.01,-40.7 Z M7.5,-52 L-6.5,3" stroke="#0000f8" stroke-width="3.3" fill="none" stroke-linecap="butt" stroke-linejoin="round"/>
<path transform="translate(1550.3,313.3) scale(1.0)" d="M-9.4,-32.6 C-8,-38 -4,-40.2 0.3,-40.2 C5.5,-40.2 9.2,-37 9.2,-32 C9.2,-29.5 8.4,-27.8 7.4,-26.3 L-9.1,-1.65 L10.8,-1.65" stroke="#0000f8" stroke-width="3.3" fill="none" stroke-linecap="butt" stroke-linejoin="round"/>
<path transform="translate(1576.6,313.3) scale(1.0)" d="M-9.4,-32.6 C-8,-38 -4,-40.2 0.3,-40.2 C5.5,-40.2 9.2,-37 9.2,-32 C9.2,-29.5 8.4,-27.8 7.4,-26.3 L-9.1,-1.65 L10.8,-1.65" stroke="#0000f8" stroke-width="3.3" fill="none" stroke-linecap="butt" stroke-linejoin="round"/>
<path d="M2345.9,295.5 L2283.4,295.5 L2258.5,405" stroke="#0000f8" stroke-width="1.6" fill="none" stroke-linejoin="round"/>
<path d="M2250.8,439.3 L2252.77,396.68 L2267.4,400 Z" fill="#0000f8" stroke="none"/>
<path transform="translate(2372.6,315.8) scale(1.0)" d="M-0.3,-41.5 L-9.3,-11.2 L10.7,-11.2 M3.4,-21.8 L3.4,0" stroke="#0000f8" stroke-width="3.3" fill="none" stroke-linecap="butt" stroke-linejoin="round"/>
<path transform="translate(2397,315.8) scale(1.0)" d="M-8.3,-29.5 L-8.3,-12.3 A8.3,10.5 0 0 0 8.3,-12.3 L8.3,-29.5 A8.3,10.5 0 0 0 -8.3,-29.5 Z" stroke="#0000f8" stroke-width="3.3" fill="none" stroke-linecap="butt" stroke-linejoin="round"/>
<path transform="translate(2421.3,315.8) scale(1.0)" d="M-8.2,-29.3 L8.2,0 M8.2,-29.3 L-8.2,0" stroke="#0000f8" stroke-width="3.3" fill="none" stroke-linecap="butt" stroke-linejoin="round"/>
<path transform="translate(2443,315.8) scale(1.0)" d="M-9.1,-40.2 L0,-40.2 A7,8.5 0 0 1 0,-23.2 L-6.1,-23.2 M0,-23.2 A8.4,10.75 0 0 1 0,-1.7 L-9.1,-1.7" stroke="#0000f8" stroke-width="3.3" fill="none" stroke-linecap="butt" stroke-linejoin="round"/>
<path transform="translate(2466.2,315.8) scale(1.0)" d="M-8.3,-29.5 L-8.3,-12.3 A8.3,10.5 0 0 0 8.3,-12.3 L8.3,-29.5 A8.3,10.5 0 0 0 -8.3,-29.5 Z" stroke="#0000f8" stroke-width="3.3" fill="none" stroke-linecap="butt" stroke-linejoin="round"/>
<path transform="translate(2507.8,315.8) scale(1.0)" d="M-7.3,-30.3 L-7.3,11.2 M-7.3,-29 L3.1,-29 Q7.1,-29 7.1,-25 L7.1,-5.3 Q7.1,-1.3 3.1,-1.3 L-7.3,-1.3" stroke="#0000f8" stroke-width="3.3" fill="none" stroke-linecap="butt" stroke-linejoin="round"/>
<path transform="translate(2530.3,315.8) scale(1.0)" d="M-5.8,-30.3 L-5.8,0 M-5.8,-29 L0.5,-29 Q5.8,-29 6.6,-23.3" stroke="#0000f8" stroke-width="3.3" fill="none" stroke-linecap="butt" stroke-linejoin="round"/>
<path transform="translate(2551,315.8) scale(1.0)" d="M-7.3,-21 L-7.3,-8.5 A7.3,7.8 0 0 0 7.3,-8.5 L7.3,-21 A7.3,7.8 0 0 0 -7.3,-21 Z" stroke="#0000f8" stroke-width="3.3" fill="none" stroke-linecap="butt" stroke-linejoin="round"/>
<path transform="translate(2570.1,315.8) scale(1.0)" d="M-1,0 L-1,-34 Q-1,-40.3 5,-40.3 L6.9,-40.3 M-6.9,-25.1 L6.9,-25.1" stroke="#0000f8" stroke-width="3.3" fill="none" stroke-linecap="butt" stroke-linejoin="round"/>
<path transform="translate(2585.1,315.8) scale(1.0)" d="M0,-29.6 L0,0 M0,-41.5 L0,-37.4" stroke="#0000f8" stroke-width="3.3" fill="none" stroke-linecap="butt" stroke-linejoin="round"/>
<path transform="translate(2599,315.8) scale(1.0)" d="M-3.3,-41.5 L-3.3,-6 Q-3.3,-1.7 1,-1.7 L4.7,-1.7" stroke="#0000f8" stroke-width="3.3" fill="none" stroke-linecap="butt" stroke-linejoin="round"/>
<path transform="translate(2634.8,315.8) scale(1.0)" d="M-8,-40 L-8,-1.7 L3.2,-1.7 Q8.2,-1.7 8.2,-6.7 L8.2,-35 Q8.2,-40 3.2,-40 Z" stroke="#0000f8" stroke-width="3.3" fill="none" stroke-linecap="butt" stroke-linejoin="round"/>
</g>
<g id="tb">
<path d="M2646.6,1806.7 L3449.5,1806.7 M2646.6,1806.7 L2646.6,2420.8 M3048.4,1806.7 L3048.4,2279.3 M2646.6,1924.9 L3449.5,1924.9 M2646.6,2279.3 L3449.5,2279.3" stroke="#000" stroke-width="3.0" fill="none"/>
<text x="2657.4" y="1836" font-family="'Liberation Sans', sans-serif" font-size="24" font-weight="normal" font-style="italic" fill="#000" text-anchor="start" textLength="67.5" lengthAdjust="spacingAndGlyphs">Model</text>
<text x="2649.8" y="1889" font-family="'Liberation Sans', sans-serif" font-size="35.4" font-weight="bold" font-style="normal" fill="#000" text-anchor="start" textLength="396.3" lengthAdjust="spacingAndGlyphs">STANDARD 3D ELECTRO</text>
<text x="3060.5" y="1833.9" font-family="'Liberation Sans', sans-serif" font-size="24" font-weight="normal" font-style="italic" fill="#000" text-anchor="start" textLength="60.4" lengthAdjust="spacingAndGlyphs">Index</text>
<text x="3076.5" y="1891.2" font-family="'Liberation Sans', sans-serif" font-size="35" font-weight="bold" font-style="normal" fill="#000" text-anchor="start" textLength="349.3" lengthAdjust="spacingAndGlyphs">STDE-50/140+GH-09C1</text>
<text x="2660.4" y="1951.2" font-family="'Liberation Sans', sans-serif" font-size="25.3" font-weight="normal" font-style="italic" fill="#000" text-anchor="start" textLength="187.5" lengthAdjust="spacingAndGlyphs">Moc elektryczna/</text>
<text x="2854.4" y="1951.2" font-family="'Liberation Sans', sans-serif" font-size="25.3" font-weight="normal" font-style="italic" fill="#595959" text-anchor="start" textLength="155.2" lengthAdjust="spacingAndGlyphs">Electric power</text>
<text x="3062.3" y="1951.2" font-family="'Liberation Sans', sans-serif" font-size="25.3" font-weight="normal" font-style="italic" fill="#000" text-anchor="start" textLength="184.5" lengthAdjust="spacingAndGlyphs">Typ podłączenia/</text>
<text x="3061.4" y="1980.2" font-family="'Liberation Sans', sans-serif" font-size="25.3" font-weight="normal" font-style="italic" fill="#595959" text-anchor="start" textLength="178.1" lengthAdjust="spacingAndGlyphs">Connection type</text>
<text x="2810" y="2212.5" font-family="'Liberation Sans', sans-serif" font-size="33" font-weight="bold" font-style="normal" fill="#000" text-anchor="start" textLength="93" lengthAdjust="spacingAndGlyphs">900 W</text>
<text x="3069.2" y="2215.7" font-family="'Liberation Sans', sans-serif" font-size="25.3" font-weight="normal" font-style="italic" fill="#000" text-anchor="start" textLength="129.3" lengthAdjust="spacingAndGlyphs">Natynkowe/</text>
<text x="3069.2" y="2243.2" font-family="'Liberation Sans', sans-serif" font-size="25.3" font-weight="normal" font-style="italic" fill="#595959" text-anchor="start" textLength="188.4" lengthAdjust="spacingAndGlyphs">Surface mounted</text>
<text x="3284.7" y="2215.7" font-family="'Liberation Sans', sans-serif" font-size="25.3" font-weight="normal" font-style="italic" fill="#000" text-anchor="start" textLength="141.1" lengthAdjust="spacingAndGlyphs">Podtynkowe/</text>
<text x="3284.7" y="2243.2" font-family="'Liberation Sans', sans-serif" font-size="25.3" font-weight="normal" font-style="italic" fill="#595959" text-anchor="start" textLength="110" lengthAdjust="spacingAndGlyphs">Recessed</text>
<text x="66" y="2406" font-family="'Liberation Sans', sans-serif" font-size="30.6" font-weight="normal" font-style="italic" fill="#000" text-anchor="start" textLength="582" lengthAdjust="spacingAndGlyphs">* Wszystkie podane wymiary są w milimetrach/</text>
<text x="657.4" y="2406" font-family="'Liberation Sans', sans-serif" font-size="30.6" font-weight="normal" font-style="italic" fill="#595959" text-anchor="start" textLength="476.6" lengthAdjust="spacingAndGlyphs">All dimensions given are in millimetres</text>
<circle cx="2847.2" cy="2098.3" r="68.6" stroke="#1d45bf" stroke-width="2.6" fill="none"/>
<text x="2847.8" y="2091.7" font-family="'Liberation Sans', sans-serif" font-size="20.4" font-weight="bold" fill="#1d45bf" text-anchor="middle" textLength="105" lengthAdjust="spacingAndGlyphs">ELECTRIC</text>
<path d="M2840.1,2098 L2840.1,2112 M2854.3,2098 L2854.3,2112 M2834.2,2112 L2860.2,2112 L2860.2,2120.5 L2855.7,2120.5 L2855.7,2130 Q2855.7,2136.5 2849.2,2136.5 L2845.2,2136.5 Q2838.7,2136.5 2838.7,2130 L2838.7,2120.5 L2834.2,2120.5 Z M2843.2,2124.5 L2851.2,2124.5 M2843.2,2129.5 L2851.2,2129.5" stroke="#1d45bf" stroke-width="2.6" fill="none" stroke-linejoin="miter"/>
<line x1="2847.2" y1="2136.5" x2="2847.2" y2="2167" stroke="#1d45bf" stroke-width="2.6"/>
<clipPath id="c3148"><circle cx="3148.4" cy="2095.3" r="68.6"/></clipPath>
<g clip-path="url(#c3148)"><path d="M2968.8,2095.3 L3047.69,2016.41 M2987.3,2095.3 L3066.19,2016.41 M3005.8,2095.3 L3084.69,2016.41 M3024.3,2095.3 L3103.19,2016.41 M3042.8,2095.3 L3121.69,2016.41 M3061.3,2095.3 L3140.19,2016.41 M3079.8,2095.3 L3158.69,2016.41 M3098.3,2095.3 L3177.19,2016.41 M3116.8,2095.3 L3195.69,2016.41 M3135.3,2095.3 L3214.19,2016.41 M3153.8,2095.3 L3232.69,2016.41 M3172.3,2095.3 L3251.19,2016.41 M3190.8,2095.3 L3269.69,2016.41 M3209.3,2095.3 L3288.19,2016.41 M3227.8,2095.3 L3306.69,2016.41 M3246.3,2095.3 L3325.19,2016.41 M3264.8,2095.3 L3343.69,2016.41 M3283.3,2095.3 L3362.19,2016.41" stroke="#1d45bf" stroke-width="2.6" fill="none"/><rect x="3112.6" y="2047.9" width="71.1" height="59.6" fill="#fff" stroke="#1d45bf" stroke-width="2.6"/><rect x="3077.8" y="2096.6" width="141.2" height="68.6" fill="#fff" opacity="0"/></g>
<line x1="3079.8" y1="2095.3" x2="3217" y2="2095.3" stroke="#1d45bf" stroke-width="2.6"/>
<circle cx="3148.4" cy="2095.3" r="68.6" stroke="#1d45bf" stroke-width="2.6" fill="none"/>
<rect x="3112.6" y="2047.9" width="71.1" height="59.6" fill="#fff" stroke="#1d45bf" stroke-width="2.6"/>
<circle cx="3148.1" cy="2077.7" r="17.6" stroke="#1d45bf" stroke-width="2.6" fill="none"/>
<circle cx="3140.9" cy="2077.4" r="2.4" fill="#1d45bf"/><circle cx="3155.5" cy="2077.4" r="2.4" fill="#1d45bf"/>
<path d="M3141.1,2116.1 L3141.1,2127.1 M3155.3,2116.1 L3155.3,2127.1 M3135.2,2127.1 L3161.2,2127.1 L3161.2,2135.6 L3156.7,2135.6 L3156.7,2143.39 Q3156.7,2148.72 3150.2,2148.72 L3146.2,2148.72 Q3139.7,2148.72 3139.7,2143.39 L3139.7,2135.6 L3135.2,2135.6 Z M3144.2,2138.88 L3152.2,2138.88 M3144.2,2142.98 L3152.2,2142.98" stroke="#1d45bf" stroke-width="2.6" fill="none" stroke-linejoin="miter"/>
<line x1="3148.2" y1="2149.8" x2="3148.2" y2="2165" stroke="#1d45bf" stroke-width="2.4"/>
<clipPath id="c3349"><circle cx="3349" cy="2096.2" r="69.2"/></clipPath>
<g clip-path="url(#c3349)"><path d="M3168.8,2096.2 L3248.38,2016.62 M3187.3,2096.2 L3266.88,2016.62 M3205.8,2096.2 L3285.38,2016.62 M3224.3,2096.2 L3303.88,2016.62 M3242.8,2096.2 L3322.38,2016.62 M3261.3,2096.2 L3340.88,2016.62 M3279.8,2096.2 L3359.38,2016.62 M3298.3,2096.2 L3377.88,2016.62 M3316.8,2096.2 L3396.38,2016.62 M3335.3,2096.2 L3414.88,2016.62 M3353.8,2096.2 L3433.38,2016.62 M3372.3,2096.2 L3451.88,2016.62 M3390.8,2096.2 L3470.38,2016.62 M3409.3,2096.2 L3488.88,2016.62 M3427.8,2096.2 L3507.38,2016.62 M3446.3,2096.2 L3525.88,2016.62 M3464.8,2096.2 L3544.38,2016.62 M3483.3,2096.2 L3562.88,2016.62" stroke="#1d45bf" stroke-width="2.6" fill="none"/><rect x="3313.8" y="2049.8" width="70.6" height="46.4" fill="#fff" stroke="#1d45bf" stroke-width="2.6"/><rect x="3277.8" y="2097.5" width="142.4" height="69.2" fill="#fff" opacity="0"/></g>
<line x1="3279.8" y1="2096.2" x2="3418.2" y2="2096.2" stroke="#1d45bf" stroke-width="2.6"/>
<circle cx="3349" cy="2096.2" r="69.2" stroke="#1d45bf" stroke-width="2.6" fill="none"/>
<path d="M3351.6,2059 L3340.8,2075.5 L3347.1,2075.7 L3346.3,2086.8 L3357.7,2070.4 L3350.3,2070.1 Z" fill="#1d45bf"/>
<circle cx="2785.4" cy="2355.4" r="50.5" fill="#0c26fd"/>
<circle cx="2765.6" cy="2336.3" r="7.4" fill="#fff"/>
<clipPath id="lgc"><path d="M2730,2349.8 L2771,2349.8 L2771,2300 L2840,2300 L2840,2379.6 L2779,2379.6 L2779,2410 L2730,2410 Z"/></clipPath>
<path clip-path="url(#lgc)" d="M2763.6,2346.7 L2757.1,2365 Q2753.6,2375.5 2763,2375.5 L2765,2375.5 Q2771.5,2375.5 2774,2368 L2784.5,2339 Q2786.5,2334.8 2792,2334.8 L2810,2334.8 Q2819.5,2334.8 2819.5,2345.5 Q2819.5,2357 2806,2357 L2797,2357 L2788.2,2383.3" stroke="#fff" stroke-width="11.5" fill="none" stroke-linejoin="round" stroke-linecap="butt"/>
<text x="2854" y="2384.3" font-family="'Liberation Sans', sans-serif" font-size="84" font-weight="bold" font-style="normal" fill="#0c26fd" text-anchor="start" textLength="504.5" lengthAdjust="spacingAndGlyphs">instalprojekt</text>
</g>
</svg>
</body></html>
